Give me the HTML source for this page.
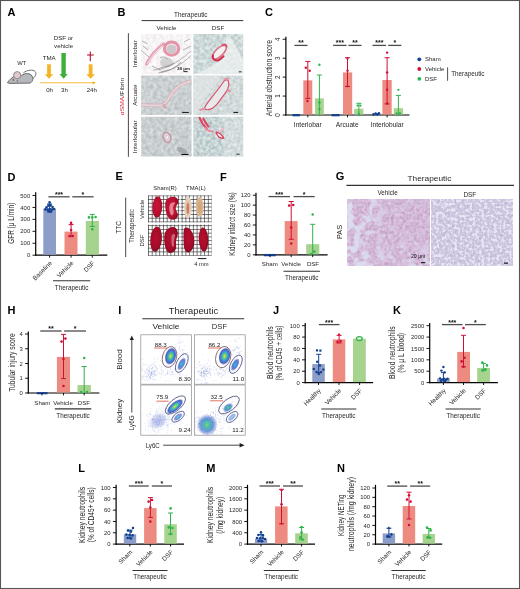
<!DOCTYPE html>
<html><head><meta charset="utf-8"><title>Figure</title>
<style>
html,body{margin:0;padding:0;background:#fff;overflow:hidden;}
svg{display:block;}
text{font-family:"Liberation Sans",sans-serif;}
</style></head><body>
<svg width="520" height="589" viewBox="0 0 520 589">
<rect x="0.00" y="0.00" width="520.00" height="589.00" fill="#fff" />
<rect x="0.5" y="0.5" width="519" height="588" fill="none" stroke="#555" stroke-width="1.1"/>
<text x="7.40" y="16.14" font-size="11" text-anchor="start" fill="#000" font-weight="bold" >A</text>
<text x="21.80" y="65.18" font-size="5.8" text-anchor="middle" fill="#231f20" font-weight="normal" >WT</text>
<text x="49.20" y="59.72" font-size="6.2" text-anchor="middle" fill="#231f20" font-weight="normal" >TMA</text>
<path d="M47.10,64.2 L50.90,64.2 L50.90,74.3 L53.25,74.3 L49.00,78.8 L44.75,74.3 L47.10,74.3Z" fill="#f5b428"/>
<text x="63.50" y="40.48" font-size="6.1" text-anchor="middle" fill="#231f20" font-weight="normal" >DSF or</text>
<text x="63.60" y="47.88" font-size="6.1" text-anchor="middle" fill="#231f20" font-weight="normal" >vehicle</text>
<path d="M61.40,53 L65.80,53 L65.80,73.89999999999999 L67.70,73.89999999999999 L63.60,78.8 L59.50,73.89999999999999 L61.40,73.89999999999999Z" fill="#3fae3c"/>
<path d="M88.70,64.2 L92.50,64.2 L92.50,74.3 L94.85,74.3 L90.60,78.8 L86.35,74.3 L88.70,74.3Z" fill="#f5b428"/>
<line x1="90.30" y1="51.50" x2="90.30" y2="61.20" stroke="#b3132f" stroke-width="1.1" />
<line x1="87.10" y1="55.00" x2="93.70" y2="55.00" stroke="#b3132f" stroke-width="1.1" />
<line x1="40.00" y1="82.80" x2="94.00" y2="82.80" stroke="#f5b428" stroke-width="0.9" />
<path d="M92.6,81.2 L96,82.8 L92.6,84.4Z" fill="#f5b428"/>
<text x="49.60" y="91.68" font-size="6.1" text-anchor="middle" fill="#231f20" font-weight="normal" >0h</text>
<text x="64.50" y="91.68" font-size="6.1" text-anchor="middle" fill="#231f20" font-weight="normal" >3h</text>
<text x="91.80" y="91.68" font-size="6.1" text-anchor="middle" fill="#231f20" font-weight="normal" >24h</text>
<g>
<path d="M32.2,78.6 C35.6,77.2 36.8,73.6 35.2,71.6 C33.2,69.2 27.4,69.8 23.4,72.8" fill="none" stroke="#4d4d4d" stroke-width="0.8"/>
<path d="M7.4,82.7 C9.6,79.6 12.4,77 15.4,75.6 L20.4,76.4 C23,73.6 28.4,72.4 31.2,75 C33.8,77.6 33.2,81.6 30,83.1 L9.6,83.4 Z" fill="#b6b9bb" stroke="#4d4d4d" stroke-width="0.8" stroke-linejoin="round"/>
<circle cx="17.2" cy="75.2" r="3.6" fill="#e2c9cd" stroke="#8a8a8a" stroke-width="1.0"/>
<circle cx="17.4" cy="81" r="0.9" fill="#8a7c7e"/>
<circle cx="13.3" cy="79.9" r="0.65" fill="#1a1a1a"/>
</g>
<text x="265.00" y="16.14" font-size="11" text-anchor="start" fill="#000" font-weight="bold" >C</text>
<line x1="285.90" y1="36.80" x2="285.90" y2="115.60" stroke="#000" stroke-width="1.2" />
<line x1="285.30" y1="115.00" x2="409.50" y2="115.00" stroke="#000" stroke-width="1.2" />
<line x1="282.70" y1="115.00" x2="285.90" y2="115.00" stroke="#000" stroke-width="0.9" />
<text transform="translate(278.20,115.00) rotate(-90)" y="2.26" font-size="6.3" text-anchor="middle" fill="#231f20" font-weight="normal" >0</text>
<line x1="282.70" y1="96.07" x2="285.90" y2="96.07" stroke="#000" stroke-width="0.9" />
<text transform="translate(278.20,96.07) rotate(-90)" y="2.26" font-size="6.3" text-anchor="middle" fill="#231f20" font-weight="normal" >1</text>
<line x1="282.70" y1="77.14" x2="285.90" y2="77.14" stroke="#000" stroke-width="0.9" />
<text transform="translate(278.20,77.14) rotate(-90)" y="2.26" font-size="6.3" text-anchor="middle" fill="#231f20" font-weight="normal" >2</text>
<line x1="282.70" y1="58.21" x2="285.90" y2="58.21" stroke="#000" stroke-width="0.9" />
<text transform="translate(278.20,58.21) rotate(-90)" y="2.26" font-size="6.3" text-anchor="middle" fill="#231f20" font-weight="normal" >3</text>
<line x1="282.70" y1="39.28" x2="285.90" y2="39.28" stroke="#000" stroke-width="0.9" />
<text transform="translate(278.20,39.28) rotate(-90)" y="2.26" font-size="6.3" text-anchor="middle" fill="#231f20" font-weight="normal" >4</text>
<text transform="translate(271.90,116.30) rotate(-90)" font-size="8.2" textLength="76.4" lengthAdjust="spacingAndGlyphs" fill="#231f20">Arterial obstruction score</text>
<line x1="292.50" y1="115.20" x2="300.00" y2="115.20" stroke="#12408f" stroke-width="2.2" />
<rect x="303.30" y="80.36" width="9.00" height="34.14" fill="#ee8b80" />
<rect x="315.00" y="98.34" width="8.80" height="16.16" fill="#a6d38e" />
<line x1="307.80" y1="61.40" x2="307.80" y2="98.40" stroke="#cf1138" stroke-width="1.0" />
<line x1="305.30" y1="61.40" x2="310.30" y2="61.40" stroke="#cf1138" stroke-width="1.0" />
<line x1="305.30" y1="98.40" x2="310.30" y2="98.40" stroke="#cf1138" stroke-width="1.0" />
<line x1="319.40" y1="75.00" x2="319.40" y2="116.20" stroke="#2fb34b" stroke-width="1.0" />
<line x1="316.90" y1="75.00" x2="321.90" y2="75.00" stroke="#2fb34b" stroke-width="1.0" />
<circle cx="305.80" cy="67.70" r="1.216" fill="#cf1138" />
<circle cx="309.70" cy="70.70" r="1.216" fill="#cf1138" />
<circle cx="307.50" cy="101.00" r="1.216" fill="#cf1138" />
<circle cx="319.40" cy="64.80" r="1.216" fill="#2fb34b" />
<circle cx="319.40" cy="102.50" r="1.216" fill="#2fb34b" />
<circle cx="319.40" cy="109.00" r="1.216" fill="#2fb34b" />
<line x1="331.50" y1="115.20" x2="339.60" y2="115.20" stroke="#12408f" stroke-width="2.2" />
<rect x="343.00" y="72.41" width="9.20" height="42.09" fill="#ee8b80" />
<rect x="354.20" y="108.75" width="9.20" height="5.75" fill="#a6d38e" />
<line x1="347.50" y1="57.70" x2="347.50" y2="86.50" stroke="#cf1138" stroke-width="1.0" />
<line x1="345.00" y1="57.70" x2="350.00" y2="57.70" stroke="#cf1138" stroke-width="1.0" />
<line x1="345.00" y1="86.50" x2="350.00" y2="86.50" stroke="#cf1138" stroke-width="1.0" />
<line x1="358.90" y1="103.30" x2="358.90" y2="116.20" stroke="#2fb34b" stroke-width="1.0" />
<line x1="356.40" y1="103.30" x2="361.40" y2="103.30" stroke="#2fb34b" stroke-width="1.0" />
<circle cx="347.50" cy="70.70" r="1.216" fill="#cf1138" />
<path d="M346.03,59.35 L348.97,59.35 L347.50,56.79Z" fill="#cf1138"/>
<path d="M346.2,85.8 L348.8,85.8 L347.5,87.8Z" fill="#cf1138"/>
<circle cx="357.60" cy="105.60" r="1.1520000000000001" fill="#2fb34b" />
<circle cx="360.40" cy="105.60" r="1.1520000000000001" fill="#2fb34b" />
<circle cx="359.00" cy="114.00" r="1.1520000000000001" fill="#2fb34b" />
<circle cx="373.50" cy="114.40" r="1.28" fill="#12408f" />
<circle cx="375.60" cy="113.60" r="1.28" fill="#12408f" />
<circle cx="377.40" cy="114.40" r="1.28" fill="#12408f" />
<circle cx="379.00" cy="113.40" r="1.28" fill="#12408f" />
<rect x="382.40" y="79.98" width="9.30" height="34.52" fill="#ee8b80" />
<rect x="393.80" y="108.19" width="9.30" height="6.31" fill="#a6d38e" />
<line x1="387.10" y1="57.70" x2="387.10" y2="103.90" stroke="#cf1138" stroke-width="1.0" />
<line x1="384.60" y1="57.70" x2="389.60" y2="57.70" stroke="#cf1138" stroke-width="1.0" />
<line x1="384.60" y1="103.90" x2="389.60" y2="103.90" stroke="#cf1138" stroke-width="1.0" />
<line x1="398.40" y1="95.40" x2="398.40" y2="116.20" stroke="#2fb34b" stroke-width="1.0" />
<line x1="395.90" y1="95.40" x2="400.90" y2="95.40" stroke="#2fb34b" stroke-width="1.0" />
<circle cx="387.10" cy="52.60" r="1.216" fill="#cf1138" />
<circle cx="387.10" cy="72.40" r="1.216" fill="#cf1138" />
<circle cx="387.10" cy="89.80" r="1.216" fill="#cf1138" />
<circle cx="387.10" cy="103.50" r="1.216" fill="#cf1138" />
<circle cx="398.40" cy="89.80" r="1.1520000000000001" fill="#2fb34b" />
<circle cx="396.60" cy="113.50" r="1.1520000000000001" fill="#2fb34b" />
<circle cx="400.00" cy="113.50" r="1.1520000000000001" fill="#2fb34b" />
<line x1="307.80" y1="115.00" x2="307.80" y2="117.40" stroke="#000" stroke-width="0.9" />
<line x1="347.50" y1="115.00" x2="347.50" y2="117.40" stroke="#000" stroke-width="0.9" />
<line x1="387.10" y1="115.00" x2="387.10" y2="117.40" stroke="#000" stroke-width="0.9" />
<text x="307.80" y="126.86" font-size="6.6" text-anchor="middle" fill="#231f20" font-weight="normal" >Interlobar</text>
<text x="347.20" y="126.86" font-size="6.6" text-anchor="middle" fill="#231f20" font-weight="normal" >Arcuate</text>
<text x="387.20" y="126.86" font-size="6.6" text-anchor="middle" fill="#231f20" font-weight="normal" >Interlobular</text>
<line x1="294.40" y1="45.40" x2="307.50" y2="45.40" stroke="#4d4d4f" stroke-width="1.3" />
<text x="300.95" y="45.31" font-size="7.0" text-anchor="middle" fill="#111" font-weight="bold" >**</text>
<line x1="333.10" y1="45.40" x2="346.60" y2="45.40" stroke="#4d4d4f" stroke-width="1.3" />
<text x="339.85" y="45.31" font-size="7.0" text-anchor="middle" fill="#111" font-weight="bold" >***</text>
<line x1="348.40" y1="45.40" x2="361.50" y2="45.40" stroke="#4d4d4f" stroke-width="1.3" />
<text x="354.95" y="45.31" font-size="7.0" text-anchor="middle" fill="#111" font-weight="bold" >**</text>
<line x1="372.50" y1="45.40" x2="386.10" y2="45.40" stroke="#4d4d4f" stroke-width="1.3" />
<text x="379.30" y="45.31" font-size="7.0" text-anchor="middle" fill="#111" font-weight="bold" >***</text>
<line x1="388.20" y1="45.40" x2="401.40" y2="45.40" stroke="#4d4d4f" stroke-width="1.3" />
<text x="394.80" y="45.31" font-size="7.0" text-anchor="middle" fill="#111" font-weight="bold" >*</text>
<circle cx="419.30" cy="59.30" r="1.9" fill="#12408f" />
<text x="425.00" y="61.45" font-size="6.0" text-anchor="start" fill="#231f20" font-weight="normal" >Sham</text>
<circle cx="419.30" cy="69.00" r="1.9" fill="#cf1138" />
<text x="425.00" y="71.15" font-size="6.0" text-anchor="start" fill="#231f20" font-weight="normal" >Vehicle</text>
<circle cx="419.30" cy="78.80" r="1.9" fill="#2fb34b" />
<text x="425.00" y="80.95" font-size="6.0" text-anchor="start" fill="#231f20" font-weight="normal" >DSF</text>
<line x1="447.60" y1="67.40" x2="447.60" y2="80.80" stroke="#222" stroke-width="0.8" />
<text x="451.20" y="76.06" font-size="6.3" text-anchor="start" fill="#231f20" font-weight="normal" >Therapeutic</text>
<text x="7.40" y="180.54" font-size="11" text-anchor="start" fill="#000" font-weight="bold" >D</text>
<line x1="35.70" y1="192.30" x2="35.70" y2="255.80" stroke="#000" stroke-width="1.2" />
<line x1="35.10" y1="255.20" x2="107.30" y2="255.20" stroke="#000" stroke-width="1.2" />
<line x1="32.50" y1="255.20" x2="35.70" y2="255.20" stroke="#000" stroke-width="0.9" />
<text x="30.20" y="257.31" font-size="5.9" text-anchor="end" fill="#231f20" font-weight="normal" >0</text>
<line x1="32.50" y1="243.26" x2="35.70" y2="243.26" stroke="#000" stroke-width="0.9" />
<text x="30.20" y="245.37" font-size="5.9" text-anchor="end" fill="#231f20" font-weight="normal" >100</text>
<line x1="32.50" y1="231.32" x2="35.70" y2="231.32" stroke="#000" stroke-width="0.9" />
<text x="30.20" y="233.43" font-size="5.9" text-anchor="end" fill="#231f20" font-weight="normal" >200</text>
<line x1="32.50" y1="219.38" x2="35.70" y2="219.38" stroke="#000" stroke-width="0.9" />
<text x="30.20" y="221.49" font-size="5.9" text-anchor="end" fill="#231f20" font-weight="normal" >300</text>
<line x1="32.50" y1="207.44" x2="35.70" y2="207.44" stroke="#000" stroke-width="0.9" />
<text x="30.20" y="209.55" font-size="5.9" text-anchor="end" fill="#231f20" font-weight="normal" >400</text>
<line x1="32.50" y1="195.50" x2="35.70" y2="195.50" stroke="#000" stroke-width="0.9" />
<text x="30.20" y="197.61" font-size="5.9" text-anchor="end" fill="#231f20" font-weight="normal" >500</text>
<text transform="translate(13.50,243.80) rotate(-90)" font-size="8.2" textLength="41.0" lengthAdjust="spacingAndGlyphs" fill="#231f20">GFR (μ L/min)</text>
<rect x="43.30" y="208.60" width="12.70" height="46.10" fill="#8d9dc9" />
<rect x="64.50" y="231.60" width="13.00" height="23.10" fill="#ee8b80" />
<rect x="85.80" y="221.00" width="13.10" height="33.70" fill="#a6d38e" />
<line x1="49.60" y1="204.00" x2="49.60" y2="211.80" stroke="#12408f" stroke-width="1.0" />
<line x1="47.10" y1="204.00" x2="52.10" y2="204.00" stroke="#12408f" stroke-width="1.0" />
<line x1="47.10" y1="211.80" x2="52.10" y2="211.80" stroke="#12408f" stroke-width="1.0" />
<line x1="71.10" y1="224.60" x2="71.10" y2="236.60" stroke="#cf1138" stroke-width="1.0" />
<line x1="68.60" y1="224.60" x2="73.60" y2="224.60" stroke="#cf1138" stroke-width="1.0" />
<line x1="68.60" y1="236.60" x2="73.60" y2="236.60" stroke="#cf1138" stroke-width="1.0" />
<line x1="92.30" y1="214.40" x2="92.30" y2="226.50" stroke="#2fb34b" stroke-width="1.0" />
<line x1="89.80" y1="214.40" x2="94.80" y2="214.40" stroke="#2fb34b" stroke-width="1.0" />
<line x1="89.80" y1="226.50" x2="94.80" y2="226.50" stroke="#2fb34b" stroke-width="1.0" />
<circle cx="49.60" cy="202.40" r="1.28" fill="#12408f" />
<circle cx="46.50" cy="207.20" r="1.28" fill="#12408f" />
<circle cx="48.30" cy="205.60" r="1.28" fill="#12408f" />
<circle cx="50.60" cy="205.40" r="1.28" fill="#12408f" />
<circle cx="52.60" cy="207.00" r="1.28" fill="#12408f" />
<circle cx="45.40" cy="209.40" r="1.28" fill="#12408f" />
<circle cx="47.60" cy="209.60" r="1.28" fill="#12408f" />
<circle cx="49.80" cy="209.00" r="1.28" fill="#12408f" />
<circle cx="52.00" cy="209.60" r="1.28" fill="#12408f" />
<circle cx="54.00" cy="209.00" r="1.28" fill="#12408f" />
<circle cx="48.60" cy="211.40" r="1.28" fill="#12408f" />
<circle cx="51.00" cy="211.60" r="1.28" fill="#12408f" />
<circle cx="71.10" cy="222.90" r="1.28" fill="#cf1138" />
<circle cx="71.10" cy="230.00" r="1.28" fill="#cf1138" />
<circle cx="69.60" cy="236.00" r="1.28" fill="#cf1138" />
<circle cx="72.70" cy="236.00" r="1.28" fill="#cf1138" />
<circle cx="89.00" cy="217.40" r="1.28" fill="#2fb34b" />
<circle cx="92.30" cy="217.40" r="1.28" fill="#2fb34b" />
<circle cx="95.60" cy="217.00" r="1.28" fill="#2fb34b" />
<circle cx="92.30" cy="229.20" r="1.28" fill="#2fb34b" />
<line x1="49.60" y1="255.20" x2="49.60" y2="257.60" stroke="#000" stroke-width="0.9" />
<line x1="71.10" y1="255.20" x2="71.10" y2="257.60" stroke="#000" stroke-width="0.9" />
<line x1="92.30" y1="255.20" x2="92.30" y2="257.60" stroke="#000" stroke-width="0.9" />
<text transform="translate(50.80,262.00) rotate(-45)" y="2.26" font-size="6.3" text-anchor="end" fill="#231f20" font-weight="normal" >Baseline</text>
<text transform="translate(72.30,262.00) rotate(-45)" y="2.26" font-size="6.3" text-anchor="end" fill="#231f20" font-weight="normal" >Vehicle</text>
<text transform="translate(93.50,262.00) rotate(-45)" y="2.26" font-size="6.3" text-anchor="end" fill="#231f20" font-weight="normal" >DSF</text>
<line x1="48.40" y1="196.80" x2="69.60" y2="196.80" stroke="#4d4d4f" stroke-width="1.3" />
<text x="59.00" y="196.71" font-size="7.0" text-anchor="middle" fill="#111" font-weight="bold" >***</text>
<line x1="72.30" y1="196.80" x2="93.60" y2="196.80" stroke="#4d4d4f" stroke-width="1.3" />
<text x="82.95" y="196.71" font-size="7.0" text-anchor="middle" fill="#111" font-weight="bold" >*</text>
<line x1="53.00" y1="280.80" x2="90.20" y2="280.80" stroke="#333" stroke-width="1.1" />
<text x="71.60" y="289.67" font-size="6.35" text-anchor="middle" fill="#231f20" font-weight="normal" >Therapeutic</text>
<text x="220.00" y="180.54" font-size="11" text-anchor="start" fill="#000" font-weight="bold" >F</text>
<line x1="256.00" y1="192.70" x2="256.00" y2="255.40" stroke="#000" stroke-width="1.2" />
<line x1="255.40" y1="254.80" x2="327.60" y2="254.80" stroke="#000" stroke-width="1.2" />
<line x1="252.80" y1="254.80" x2="256.00" y2="254.80" stroke="#000" stroke-width="0.9" />
<text x="250.50" y="256.91" font-size="5.9" text-anchor="end" fill="#231f20" font-weight="normal" >0</text>
<line x1="252.80" y1="244.87" x2="256.00" y2="244.87" stroke="#000" stroke-width="0.9" />
<text x="250.50" y="246.98" font-size="5.9" text-anchor="end" fill="#231f20" font-weight="normal" >20</text>
<line x1="252.80" y1="234.94" x2="256.00" y2="234.94" stroke="#000" stroke-width="0.9" />
<text x="250.50" y="237.05" font-size="5.9" text-anchor="end" fill="#231f20" font-weight="normal" >40</text>
<line x1="252.80" y1="225.01" x2="256.00" y2="225.01" stroke="#000" stroke-width="0.9" />
<text x="250.50" y="227.12" font-size="5.9" text-anchor="end" fill="#231f20" font-weight="normal" >60</text>
<line x1="252.80" y1="215.08" x2="256.00" y2="215.08" stroke="#000" stroke-width="0.9" />
<text x="250.50" y="217.19" font-size="5.9" text-anchor="end" fill="#231f20" font-weight="normal" >80</text>
<line x1="252.80" y1="205.15" x2="256.00" y2="205.15" stroke="#000" stroke-width="0.9" />
<text x="250.50" y="207.26" font-size="5.9" text-anchor="end" fill="#231f20" font-weight="normal" >100</text>
<line x1="252.80" y1="195.22" x2="256.00" y2="195.22" stroke="#000" stroke-width="0.9" />
<text x="250.50" y="197.33" font-size="5.9" text-anchor="end" fill="#231f20" font-weight="normal" >120</text>
<text transform="translate(235.30,255.75) rotate(-90)" font-size="8.2" textLength="63.5" lengthAdjust="spacingAndGlyphs" fill="#231f20">Kidney infarct size (%)</text>
<line x1="263.80" y1="255.10" x2="275.80" y2="255.10" stroke="#12408f" stroke-width="2.3" />
<rect x="284.70" y="221.10" width="12.90" height="33.20" fill="#ee8b80" />
<rect x="306.20" y="244.20" width="13.10" height="10.10" fill="#a6d38e" />
<line x1="291.20" y1="201.50" x2="291.20" y2="239.30" stroke="#cf1138" stroke-width="1.0" />
<line x1="288.70" y1="201.50" x2="293.70" y2="201.50" stroke="#cf1138" stroke-width="1.0" />
<line x1="288.70" y1="239.30" x2="293.70" y2="239.30" stroke="#cf1138" stroke-width="1.0" />
<line x1="312.70" y1="224.30" x2="312.70" y2="255.80" stroke="#2fb34b" stroke-width="1.0" />
<line x1="310.20" y1="224.30" x2="315.20" y2="224.30" stroke="#2fb34b" stroke-width="1.0" />
<circle cx="289.20" cy="205.60" r="1.28" fill="#cf1138" />
<circle cx="293.20" cy="205.00" r="1.28" fill="#cf1138" />
<circle cx="291.20" cy="227.50" r="1.28" fill="#cf1138" />
<circle cx="291.20" cy="243.50" r="1.28" fill="#cf1138" />
<circle cx="312.70" cy="214.50" r="1.28" fill="#2fb34b" />
<circle cx="314.40" cy="251.60" r="1.28" fill="#2fb34b" />
<circle cx="311.00" cy="254.00" r="1.28" fill="#2fb34b" />
<line x1="270.00" y1="254.80" x2="270.00" y2="257.20" stroke="#000" stroke-width="0.9" />
<line x1="291.20" y1="254.80" x2="291.20" y2="257.20" stroke="#000" stroke-width="0.9" />
<line x1="312.70" y1="254.80" x2="312.70" y2="257.20" stroke="#000" stroke-width="0.9" />
<text x="269.80" y="266.48" font-size="6.1" text-anchor="middle" fill="#231f20" font-weight="normal" >Sham</text>
<text x="291.20" y="266.48" font-size="6.1" text-anchor="middle" fill="#231f20" font-weight="normal" >Vehicle</text>
<text x="313.00" y="266.48" font-size="6.1" text-anchor="middle" fill="#231f20" font-weight="normal" >DSF</text>
<line x1="268.50" y1="196.60" x2="290.00" y2="196.60" stroke="#4d4d4f" stroke-width="1.3" />
<text x="279.25" y="196.51" font-size="7.0" text-anchor="middle" fill="#111" font-weight="bold" >***</text>
<line x1="293.50" y1="196.60" x2="314.70" y2="196.60" stroke="#4d4d4f" stroke-width="1.3" />
<text x="304.10" y="196.51" font-size="7.0" text-anchor="middle" fill="#111" font-weight="bold" >*</text>
<line x1="283.50" y1="271.20" x2="320.00" y2="271.20" stroke="#333" stroke-width="1.1" />
<text x="301.75" y="280.07" font-size="6.35" text-anchor="middle" fill="#231f20" font-weight="normal" >Therapeutic</text>
<text x="7.40" y="313.84" font-size="11" text-anchor="start" fill="#000" font-weight="bold" >H</text>
<line x1="28.30" y1="331.40" x2="28.30" y2="393.60" stroke="#000" stroke-width="1.2" />
<line x1="27.70" y1="393.00" x2="99.40" y2="393.00" stroke="#000" stroke-width="1.2" />
<line x1="25.10" y1="393.00" x2="28.30" y2="393.00" stroke="#000" stroke-width="0.9" />
<text x="22.80" y="395.11" font-size="5.9" text-anchor="end" fill="#231f20" font-weight="normal" >0</text>
<line x1="25.10" y1="378.25" x2="28.30" y2="378.25" stroke="#000" stroke-width="0.9" />
<text x="22.80" y="380.36" font-size="5.9" text-anchor="end" fill="#231f20" font-weight="normal" >1</text>
<line x1="25.10" y1="363.50" x2="28.30" y2="363.50" stroke="#000" stroke-width="0.9" />
<text x="22.80" y="365.61" font-size="5.9" text-anchor="end" fill="#231f20" font-weight="normal" >2</text>
<line x1="25.10" y1="348.75" x2="28.30" y2="348.75" stroke="#000" stroke-width="0.9" />
<text x="22.80" y="350.86" font-size="5.9" text-anchor="end" fill="#231f20" font-weight="normal" >3</text>
<line x1="25.10" y1="334.00" x2="28.30" y2="334.00" stroke="#000" stroke-width="0.9" />
<text x="22.80" y="336.11" font-size="5.9" text-anchor="end" fill="#231f20" font-weight="normal" >4</text>
<text transform="translate(14.60,391.80) rotate(-90)" font-size="8.2" textLength="58.4" lengthAdjust="spacingAndGlyphs" fill="#231f20">Tubular injury score</text>
<line x1="36.80" y1="393.20" x2="47.60" y2="393.20" stroke="#12408f" stroke-width="2.1" />
<rect x="56.90" y="356.90" width="13.10" height="35.60" fill="#ee8b80" />
<rect x="77.50" y="385.00" width="13.40" height="7.50" fill="#a6d38e" />
<line x1="63.50" y1="334.40" x2="63.50" y2="378.60" stroke="#cf1138" stroke-width="1.0" />
<line x1="61.00" y1="334.40" x2="66.00" y2="334.40" stroke="#cf1138" stroke-width="1.0" />
<line x1="61.00" y1="378.60" x2="66.00" y2="378.60" stroke="#cf1138" stroke-width="1.0" />
<line x1="84.20" y1="366.50" x2="84.20" y2="394.00" stroke="#2fb34b" stroke-width="1.0" />
<line x1="81.70" y1="366.50" x2="86.70" y2="366.50" stroke="#2fb34b" stroke-width="1.0" />
<circle cx="61.50" cy="341.60" r="1.28" fill="#cf1138" />
<circle cx="65.40" cy="338.60" r="1.28" fill="#cf1138" />
<circle cx="63.50" cy="359.00" r="1.28" fill="#cf1138" />
<circle cx="63.50" cy="386.00" r="1.28" fill="#cf1138" />
<circle cx="84.20" cy="358.00" r="1.28" fill="#2fb34b" />
<circle cx="81.20" cy="392.00" r="1.28" fill="#2fb34b" />
<circle cx="87.00" cy="392.00" r="1.28" fill="#2fb34b" />
<line x1="42.00" y1="393.00" x2="42.00" y2="395.40" stroke="#000" stroke-width="0.9" />
<line x1="63.50" y1="393.00" x2="63.50" y2="395.40" stroke="#000" stroke-width="0.9" />
<line x1="84.20" y1="393.00" x2="84.20" y2="395.40" stroke="#000" stroke-width="0.9" />
<text x="42.30" y="404.68" font-size="6.1" text-anchor="middle" fill="#231f20" font-weight="normal" >Sham</text>
<text x="63.00" y="404.68" font-size="6.1" text-anchor="middle" fill="#231f20" font-weight="normal" >Vehicle</text>
<text x="83.90" y="404.68" font-size="6.1" text-anchor="middle" fill="#231f20" font-weight="normal" >DSF</text>
<line x1="40.30" y1="331.00" x2="61.60" y2="331.00" stroke="#4d4d4f" stroke-width="1.3" />
<text x="50.95" y="330.91" font-size="7.0" text-anchor="middle" fill="#111" font-weight="bold" >**</text>
<line x1="64.10" y1="331.00" x2="86.00" y2="331.00" stroke="#4d4d4f" stroke-width="1.3" />
<text x="75.05" y="330.91" font-size="7.0" text-anchor="middle" fill="#111" font-weight="bold" >*</text>
<line x1="54.80" y1="408.90" x2="91.30" y2="408.90" stroke="#333" stroke-width="1.1" />
<text x="73.05" y="417.77" font-size="6.35" text-anchor="middle" fill="#231f20" font-weight="normal" >Therapeutic</text>
<text x="272.90" y="314.14" font-size="11" text-anchor="start" fill="#000" font-weight="bold" >J</text>
<line x1="305.20" y1="323.00" x2="305.20" y2="383.20" stroke="#000" stroke-width="1.2" />
<line x1="304.60" y1="382.60" x2="373.10" y2="382.60" stroke="#000" stroke-width="1.2" />
<line x1="302.00" y1="382.60" x2="305.20" y2="382.60" stroke="#000" stroke-width="0.9" />
<text x="299.70" y="384.71" font-size="5.9" text-anchor="end" fill="#231f20" font-weight="normal" >0</text>
<line x1="302.00" y1="371.22" x2="305.20" y2="371.22" stroke="#000" stroke-width="0.9" />
<text x="299.70" y="373.33" font-size="5.9" text-anchor="end" fill="#231f20" font-weight="normal" >20</text>
<line x1="302.00" y1="359.84" x2="305.20" y2="359.84" stroke="#000" stroke-width="0.9" />
<text x="299.70" y="361.95" font-size="5.9" text-anchor="end" fill="#231f20" font-weight="normal" >40</text>
<line x1="302.00" y1="348.46" x2="305.20" y2="348.46" stroke="#000" stroke-width="0.9" />
<text x="299.70" y="350.57" font-size="5.9" text-anchor="end" fill="#231f20" font-weight="normal" >60</text>
<line x1="302.00" y1="337.08" x2="305.20" y2="337.08" stroke="#000" stroke-width="0.9" />
<text x="299.70" y="339.19" font-size="5.9" text-anchor="end" fill="#231f20" font-weight="normal" >80</text>
<line x1="302.00" y1="325.70" x2="305.20" y2="325.70" stroke="#000" stroke-width="0.9" />
<text x="299.70" y="327.81" font-size="5.9" text-anchor="end" fill="#231f20" font-weight="normal" >100</text>
<text transform="translate(273.20,379.00) rotate(-90)" font-size="8.2" textLength="52.8" lengthAdjust="spacingAndGlyphs" fill="#231f20">Blood neutrophils</text>
<text transform="translate(282.40,380.50) rotate(-90)" font-size="8.2" textLength="55.0" lengthAdjust="spacingAndGlyphs" fill="#231f20">(% of CD45 + cells)</text>
<rect x="312.30" y="364.10" width="12.50" height="18.00" fill="#8d9dc9" />
<rect x="332.80" y="339.40" width="12.50" height="42.70" fill="#ee8b80" />
<rect x="353.00" y="338.80" width="12.80" height="43.30" fill="#a6d38e" />
<line x1="318.70" y1="354.30" x2="318.70" y2="372.60" stroke="#12408f" stroke-width="1.0" />
<line x1="316.20" y1="354.30" x2="321.20" y2="354.30" stroke="#12408f" stroke-width="1.0" />
<line x1="316.20" y1="372.60" x2="321.20" y2="372.60" stroke="#12408f" stroke-width="1.0" />
<line x1="339.10" y1="335.30" x2="339.10" y2="343.00" stroke="#cf1138" stroke-width="1.0" />
<line x1="336.60" y1="335.30" x2="341.60" y2="335.30" stroke="#cf1138" stroke-width="1.0" />
<line x1="336.60" y1="343.00" x2="341.60" y2="343.00" stroke="#cf1138" stroke-width="1.0" />
<rect x="315.91" y="349.31" width="2.18" height="2.18" fill="#12408f" />
<rect x="319.31" y="349.51" width="2.18" height="2.18" fill="#12408f" />
<rect x="316.11" y="360.71" width="2.18" height="2.18" fill="#12408f" />
<rect x="318.91" y="364.41" width="2.18" height="2.18" fill="#12408f" />
<rect x="312.71" y="367.91" width="2.18" height="2.18" fill="#12408f" />
<rect x="322.31" y="368.51" width="2.18" height="2.18" fill="#12408f" />
<rect x="315.41" y="370.91" width="2.18" height="2.18" fill="#12408f" />
<rect x="319.91" y="371.11" width="2.18" height="2.18" fill="#12408f" />
<rect x="317.61" y="372.91" width="2.18" height="2.18" fill="#12408f" />
<path d="M337.38,335.47 L340.62,335.47 L339.00,332.65Z" fill="#cf1138"/>
<path d="M335.78,342.67 L339.02,342.67 L337.40,339.85Z" fill="#cf1138"/>
<path d="M339.18,342.07 L342.42,342.07 L340.80,339.25Z" fill="#cf1138"/>
<ellipse cx="359.3" cy="338.6" rx="2.9" ry="1.9" fill="#e8f6e4" stroke="#2fb34b" stroke-width="1.3"/>
<line x1="318.50" y1="382.60" x2="318.50" y2="385.00" stroke="#000" stroke-width="0.9" />
<line x1="339.00" y1="382.60" x2="339.00" y2="385.00" stroke="#000" stroke-width="0.9" />
<line x1="359.60" y1="382.60" x2="359.60" y2="385.00" stroke="#000" stroke-width="0.9" />
<text transform="translate(319.70,389.40) rotate(-45)" y="2.26" font-size="6.3" text-anchor="end" fill="#231f20" font-weight="normal" >Healthy</text>
<text transform="translate(340.20,389.40) rotate(-45)" y="2.26" font-size="6.3" text-anchor="end" fill="#231f20" font-weight="normal" >Vehicle</text>
<text transform="translate(360.80,389.40) rotate(-45)" y="2.26" font-size="6.3" text-anchor="end" fill="#231f20" font-weight="normal" >DSF</text>
<line x1="318.80" y1="324.60" x2="339.50" y2="324.60" stroke="#4d4d4f" stroke-width="1.3" />
<text x="329.15" y="324.51" font-size="7.0" text-anchor="middle" fill="#111" font-weight="bold" >***</text>
<line x1="321.30" y1="409.00" x2="356.30" y2="409.00" stroke="#333" stroke-width="1.1" />
<text x="338.80" y="417.87" font-size="6.35" text-anchor="middle" fill="#231f20" font-weight="normal" >Therapeutic</text>
<text x="392.90" y="314.14" font-size="11" text-anchor="start" fill="#000" font-weight="bold" >K</text>
<line x1="429.70" y1="323.00" x2="429.70" y2="383.20" stroke="#000" stroke-width="1.2" />
<line x1="429.10" y1="382.60" x2="497.90" y2="382.60" stroke="#000" stroke-width="1.2" />
<line x1="426.50" y1="382.60" x2="429.70" y2="382.60" stroke="#000" stroke-width="0.9" />
<text x="424.20" y="384.71" font-size="5.9" text-anchor="end" fill="#231f20" font-weight="normal" >0</text>
<line x1="426.50" y1="371.22" x2="429.70" y2="371.22" stroke="#000" stroke-width="0.9" />
<text x="424.20" y="373.33" font-size="5.9" text-anchor="end" fill="#231f20" font-weight="normal" >500</text>
<line x1="426.50" y1="359.84" x2="429.70" y2="359.84" stroke="#000" stroke-width="0.9" />
<text x="424.20" y="361.95" font-size="5.9" text-anchor="end" fill="#231f20" font-weight="normal" >1000</text>
<line x1="426.50" y1="348.46" x2="429.70" y2="348.46" stroke="#000" stroke-width="0.9" />
<text x="424.20" y="350.57" font-size="5.9" text-anchor="end" fill="#231f20" font-weight="normal" >1500</text>
<line x1="426.50" y1="337.08" x2="429.70" y2="337.08" stroke="#000" stroke-width="0.9" />
<text x="424.20" y="339.19" font-size="5.9" text-anchor="end" fill="#231f20" font-weight="normal" >2000</text>
<line x1="426.50" y1="325.70" x2="429.70" y2="325.70" stroke="#000" stroke-width="0.9" />
<text x="424.20" y="327.81" font-size="5.9" text-anchor="end" fill="#231f20" font-weight="normal" >2500</text>
<text transform="translate(394.90,379.00) rotate(-90)" font-size="8.2" textLength="52.8" lengthAdjust="spacingAndGlyphs" fill="#231f20">Blood neutrophils</text>
<text transform="translate(403.50,372.70) rotate(-90)" font-size="8.2" textLength="39.8" lengthAdjust="spacingAndGlyphs" fill="#231f20">(% μ L blood)</text>
<rect x="437.10" y="378.40" width="12.70" height="3.70" fill="#8d9dc9" />
<rect x="457.20" y="351.90" width="12.80" height="30.20" fill="#ee8b80" />
<rect x="477.20" y="367.90" width="12.80" height="14.20" fill="#a6d38e" />
<line x1="443.40" y1="372.40" x2="443.40" y2="383.20" stroke="#12408f" stroke-width="1.0" />
<line x1="440.90" y1="372.40" x2="445.90" y2="372.40" stroke="#12408f" stroke-width="1.0" />
<line x1="463.50" y1="335.30" x2="463.50" y2="366.80" stroke="#cf1138" stroke-width="1.0" />
<line x1="461.00" y1="335.30" x2="466.00" y2="335.30" stroke="#cf1138" stroke-width="1.0" />
<line x1="461.00" y1="366.80" x2="466.00" y2="366.80" stroke="#cf1138" stroke-width="1.0" />
<line x1="483.60" y1="363.40" x2="483.60" y2="370.60" stroke="#2fb34b" stroke-width="1.0" />
<line x1="481.10" y1="363.40" x2="486.10" y2="363.40" stroke="#2fb34b" stroke-width="1.0" />
<line x1="481.10" y1="370.60" x2="486.10" y2="370.60" stroke="#2fb34b" stroke-width="1.0" />
<circle cx="443.40" cy="367.00" r="1.216" fill="#12408f" />
<circle cx="441.40" cy="370.60" r="1.216" fill="#12408f" />
<circle cx="444.60" cy="372.40" r="1.216" fill="#12408f" />
<circle cx="440.00" cy="378.40" r="1.216" fill="#12408f" />
<circle cx="442.00" cy="379.60" r="1.216" fill="#12408f" />
<circle cx="444.00" cy="378.60" r="1.216" fill="#12408f" />
<circle cx="446.00" cy="379.80" r="1.216" fill="#12408f" />
<circle cx="447.60" cy="378.80" r="1.216" fill="#12408f" />
<circle cx="441.00" cy="380.80" r="1.216" fill="#12408f" />
<circle cx="445.00" cy="381.00" r="1.216" fill="#12408f" />
<circle cx="463.50" cy="328.00" r="1.28" fill="#cf1138" />
<circle cx="464.60" cy="357.80" r="1.28" fill="#cf1138" />
<circle cx="461.60" cy="361.40" r="1.28" fill="#cf1138" />
<circle cx="463.50" cy="366.80" r="1.28" fill="#cf1138" />
<circle cx="482.40" cy="362.60" r="1.28" fill="#2fb34b" />
<circle cx="487.00" cy="365.40" r="1.28" fill="#2fb34b" />
<circle cx="482.60" cy="370.40" r="1.28" fill="#2fb34b" />
<circle cx="485.50" cy="369.40" r="1.28" fill="#2fb34b" />
<line x1="443.40" y1="382.60" x2="443.40" y2="385.00" stroke="#000" stroke-width="0.9" />
<line x1="463.50" y1="382.60" x2="463.50" y2="385.00" stroke="#000" stroke-width="0.9" />
<line x1="483.60" y1="382.60" x2="483.60" y2="385.00" stroke="#000" stroke-width="0.9" />
<text transform="translate(444.60,389.40) rotate(-45)" y="2.26" font-size="6.3" text-anchor="end" fill="#231f20" font-weight="normal" >Healthy</text>
<text transform="translate(464.70,389.40) rotate(-45)" y="2.26" font-size="6.3" text-anchor="end" fill="#231f20" font-weight="normal" >Vehicle</text>
<text transform="translate(484.80,389.40) rotate(-45)" y="2.26" font-size="6.3" text-anchor="end" fill="#231f20" font-weight="normal" >DSF</text>
<line x1="442.00" y1="324.60" x2="462.50" y2="324.60" stroke="#4d4d4f" stroke-width="1.3" />
<text x="452.25" y="324.51" font-size="7.0" text-anchor="middle" fill="#111" font-weight="bold" >***</text>
<line x1="465.00" y1="324.60" x2="485.80" y2="324.60" stroke="#4d4d4f" stroke-width="1.3" />
<text x="475.40" y="324.51" font-size="7.0" text-anchor="middle" fill="#111" font-weight="bold" >*</text>
<line x1="445.50" y1="409.00" x2="480.80" y2="409.00" stroke="#333" stroke-width="1.1" />
<text x="463.15" y="417.87" font-size="6.35" text-anchor="middle" fill="#231f20" font-weight="normal" >Therapeutic</text>
<text x="78.20" y="472.14" font-size="11" text-anchor="start" fill="#000" font-weight="bold" >L</text>
<line x1="116.10" y1="484.80" x2="116.10" y2="544.70" stroke="#000" stroke-width="1.2" />
<line x1="115.50" y1="544.10" x2="184.00" y2="544.10" stroke="#000" stroke-width="1.2" />
<line x1="112.90" y1="544.10" x2="116.10" y2="544.10" stroke="#000" stroke-width="0.9" />
<text x="110.60" y="546.21" font-size="5.9" text-anchor="end" fill="#231f20" font-weight="normal" >0</text>
<line x1="112.90" y1="532.78" x2="116.10" y2="532.78" stroke="#000" stroke-width="0.9" />
<text x="110.60" y="534.89" font-size="5.9" text-anchor="end" fill="#231f20" font-weight="normal" >20</text>
<line x1="112.90" y1="521.46" x2="116.10" y2="521.46" stroke="#000" stroke-width="0.9" />
<text x="110.60" y="523.57" font-size="5.9" text-anchor="end" fill="#231f20" font-weight="normal" >40</text>
<line x1="112.90" y1="510.14" x2="116.10" y2="510.14" stroke="#000" stroke-width="0.9" />
<text x="110.60" y="512.25" font-size="5.9" text-anchor="end" fill="#231f20" font-weight="normal" >60</text>
<line x1="112.90" y1="498.82" x2="116.10" y2="498.82" stroke="#000" stroke-width="0.9" />
<text x="110.60" y="500.93" font-size="5.9" text-anchor="end" fill="#231f20" font-weight="normal" >80</text>
<line x1="112.90" y1="487.50" x2="116.10" y2="487.50" stroke="#000" stroke-width="0.9" />
<text x="110.60" y="489.61" font-size="5.9" text-anchor="end" fill="#231f20" font-weight="normal" >100</text>
<text transform="translate(85.30,542.90) rotate(-90)" font-size="8.2" textLength="56.0" lengthAdjust="spacingAndGlyphs" fill="#231f20">Kidney neutrophils</text>
<text transform="translate(94.30,542.30) rotate(-90)" font-size="8.2" textLength="55.0" lengthAdjust="spacingAndGlyphs" fill="#231f20">(% of CD45+ cells)</text>
<rect x="123.80" y="534.20" width="12.40" height="9.40" fill="#8d9dc9" />
<rect x="144.10" y="508.10" width="12.50" height="35.50" fill="#ee8b80" />
<rect x="164.30" y="524.30" width="12.50" height="19.30" fill="#a6d38e" />
<line x1="130.00" y1="530.10" x2="130.00" y2="538.20" stroke="#12408f" stroke-width="1.0" />
<line x1="127.50" y1="530.10" x2="132.50" y2="530.10" stroke="#12408f" stroke-width="1.0" />
<line x1="127.50" y1="538.20" x2="132.50" y2="538.20" stroke="#12408f" stroke-width="1.0" />
<line x1="150.40" y1="497.60" x2="150.40" y2="517.40" stroke="#cf1138" stroke-width="1.0" />
<line x1="147.90" y1="497.60" x2="152.90" y2="497.60" stroke="#cf1138" stroke-width="1.0" />
<line x1="147.90" y1="517.40" x2="152.90" y2="517.40" stroke="#cf1138" stroke-width="1.0" />
<line x1="170.50" y1="513.00" x2="170.50" y2="534.00" stroke="#2fb34b" stroke-width="1.0" />
<line x1="168.00" y1="513.00" x2="173.00" y2="513.00" stroke="#2fb34b" stroke-width="1.0" />
<line x1="168.00" y1="534.00" x2="173.00" y2="534.00" stroke="#2fb34b" stroke-width="1.0" />
<circle cx="133.00" cy="528.00" r="1.28" fill="#12408f" />
<circle cx="128.00" cy="530.60" r="1.28" fill="#12408f" />
<circle cx="131.00" cy="531.60" r="1.28" fill="#12408f" />
<circle cx="126.40" cy="534.60" r="1.28" fill="#12408f" />
<circle cx="129.60" cy="535.00" r="1.28" fill="#12408f" />
<circle cx="132.60" cy="535.40" r="1.28" fill="#12408f" />
<circle cx="127.60" cy="538.00" r="1.28" fill="#12408f" />
<circle cx="130.80" cy="538.40" r="1.28" fill="#12408f" />
<circle cx="148.60" cy="501.60" r="1.28" fill="#cf1138" />
<circle cx="152.00" cy="500.00" r="1.28" fill="#cf1138" />
<circle cx="150.30" cy="507.60" r="1.28" fill="#cf1138" />
<circle cx="150.30" cy="521.60" r="1.28" fill="#cf1138" />
<circle cx="170.60" cy="508.40" r="1.28" fill="#2fb34b" />
<circle cx="168.80" cy="527.40" r="1.28" fill="#2fb34b" />
<circle cx="172.40" cy="528.00" r="1.28" fill="#2fb34b" />
<circle cx="170.60" cy="534.00" r="1.28" fill="#2fb34b" />
<line x1="129.80" y1="544.10" x2="129.80" y2="546.50" stroke="#000" stroke-width="0.9" />
<line x1="150.30" y1="544.10" x2="150.30" y2="546.50" stroke="#000" stroke-width="0.9" />
<line x1="170.60" y1="544.10" x2="170.60" y2="546.50" stroke="#000" stroke-width="0.9" />
<text transform="translate(131.00,550.90) rotate(-45)" y="2.26" font-size="6.3" text-anchor="end" fill="#231f20" font-weight="normal" >Sham</text>
<text transform="translate(151.50,550.90) rotate(-45)" y="2.26" font-size="6.3" text-anchor="end" fill="#231f20" font-weight="normal" >Vehicle</text>
<text transform="translate(171.80,550.90) rotate(-45)" y="2.26" font-size="6.3" text-anchor="end" fill="#231f20" font-weight="normal" >DSF</text>
<line x1="128.80" y1="486.00" x2="148.80" y2="486.00" stroke="#4d4d4f" stroke-width="1.3" />
<text x="138.80" y="485.91" font-size="7.0" text-anchor="middle" fill="#111" font-weight="bold" >***</text>
<line x1="151.80" y1="486.00" x2="172.00" y2="486.00" stroke="#4d4d4f" stroke-width="1.3" />
<text x="161.90" y="485.91" font-size="7.0" text-anchor="middle" fill="#111" font-weight="bold" >*</text>
<line x1="132.50" y1="570.50" x2="167.50" y2="570.50" stroke="#333" stroke-width="1.1" />
<text x="150.00" y="579.37" font-size="6.35" text-anchor="middle" fill="#231f20" font-weight="normal" >Therapeutic</text>
<text x="206.20" y="472.14" font-size="11" text-anchor="start" fill="#000" font-weight="bold" >M</text>
<line x1="247.50" y1="484.80" x2="247.50" y2="544.70" stroke="#000" stroke-width="1.2" />
<line x1="246.90" y1="544.10" x2="315.00" y2="544.10" stroke="#000" stroke-width="1.2" />
<line x1="244.30" y1="544.10" x2="247.50" y2="544.10" stroke="#000" stroke-width="0.9" />
<text x="242.00" y="546.21" font-size="5.9" text-anchor="end" fill="#231f20" font-weight="normal" >0</text>
<line x1="244.30" y1="532.78" x2="247.50" y2="532.78" stroke="#000" stroke-width="0.9" />
<text x="242.00" y="534.89" font-size="5.9" text-anchor="end" fill="#231f20" font-weight="normal" >400</text>
<line x1="244.30" y1="521.46" x2="247.50" y2="521.46" stroke="#000" stroke-width="0.9" />
<text x="242.00" y="523.57" font-size="5.9" text-anchor="end" fill="#231f20" font-weight="normal" >800</text>
<line x1="244.30" y1="510.14" x2="247.50" y2="510.14" stroke="#000" stroke-width="0.9" />
<text x="242.00" y="512.25" font-size="5.9" text-anchor="end" fill="#231f20" font-weight="normal" >1200</text>
<line x1="244.30" y1="498.82" x2="247.50" y2="498.82" stroke="#000" stroke-width="0.9" />
<text x="242.00" y="500.93" font-size="5.9" text-anchor="end" fill="#231f20" font-weight="normal" >1600</text>
<line x1="244.30" y1="487.50" x2="247.50" y2="487.50" stroke="#000" stroke-width="0.9" />
<text x="242.00" y="489.61" font-size="5.9" text-anchor="end" fill="#231f20" font-weight="normal" >2000</text>
<text transform="translate(213.30,542.90) rotate(-90)" font-size="8.2" textLength="56.0" lengthAdjust="spacingAndGlyphs" fill="#231f20">Kidney neutrophils</text>
<text transform="translate(222.70,533.70) rotate(-90)" font-size="8.2" textLength="37.0" lengthAdjust="spacingAndGlyphs" fill="#231f20">(/mg kidney)</text>
<rect x="255.00" y="538.80" width="12.20" height="4.80" fill="#8d9dc9" />
<rect x="275.10" y="506.40" width="12.50" height="37.20" fill="#ee8b80" />
<rect x="295.20" y="533.30" width="12.60" height="10.30" fill="#a6d38e" />
<line x1="261.00" y1="534.60" x2="261.00" y2="541.40" stroke="#12408f" stroke-width="1.0" />
<line x1="258.50" y1="534.60" x2="263.50" y2="534.60" stroke="#12408f" stroke-width="1.0" />
<line x1="258.50" y1="541.40" x2="263.50" y2="541.40" stroke="#12408f" stroke-width="1.0" />
<line x1="281.50" y1="489.30" x2="281.50" y2="523.80" stroke="#cf1138" stroke-width="1.0" />
<line x1="279.00" y1="489.30" x2="284.00" y2="489.30" stroke="#cf1138" stroke-width="1.0" />
<line x1="279.00" y1="523.80" x2="284.00" y2="523.80" stroke="#cf1138" stroke-width="1.0" />
<line x1="301.60" y1="527.50" x2="301.60" y2="539.30" stroke="#2fb34b" stroke-width="1.0" />
<line x1="299.10" y1="527.50" x2="304.10" y2="527.50" stroke="#2fb34b" stroke-width="1.0" />
<line x1="299.10" y1="539.30" x2="304.10" y2="539.30" stroke="#2fb34b" stroke-width="1.0" />
<circle cx="261.00" cy="532.40" r="1.28" fill="#12408f" />
<circle cx="258.40" cy="535.00" r="1.28" fill="#12408f" />
<circle cx="263.00" cy="535.40" r="1.28" fill="#12408f" />
<circle cx="257.00" cy="538.00" r="1.28" fill="#12408f" />
<circle cx="260.00" cy="538.40" r="1.28" fill="#12408f" />
<circle cx="262.80" cy="538.00" r="1.28" fill="#12408f" />
<circle cx="265.00" cy="539.00" r="1.28" fill="#12408f" />
<circle cx="258.60" cy="541.00" r="1.28" fill="#12408f" />
<circle cx="262.00" cy="541.20" r="1.28" fill="#12408f" />
<circle cx="281.50" cy="504.20" r="1.28" fill="#cf1138" />
<path d="M280.03,490.95 L282.97,490.95 L281.50,488.39Z" fill="#cf1138"/>
<path d="M280.2,523 L282.8,523 L281.5,525Z" fill="#cf1138"/>
<circle cx="301.60" cy="527.00" r="1.28" fill="#2fb34b" />
<circle cx="301.60" cy="532.60" r="1.28" fill="#2fb34b" />
<circle cx="300.40" cy="537.40" r="1.28" fill="#2fb34b" />
<circle cx="302.60" cy="539.80" r="1.28" fill="#2fb34b" />
<line x1="261.00" y1="544.10" x2="261.00" y2="546.50" stroke="#000" stroke-width="0.9" />
<line x1="281.50" y1="544.10" x2="281.50" y2="546.50" stroke="#000" stroke-width="0.9" />
<line x1="301.60" y1="544.10" x2="301.60" y2="546.50" stroke="#000" stroke-width="0.9" />
<text transform="translate(262.20,550.90) rotate(-45)" y="2.26" font-size="6.3" text-anchor="end" fill="#231f20" font-weight="normal" >Sham</text>
<text transform="translate(282.70,550.90) rotate(-45)" y="2.26" font-size="6.3" text-anchor="end" fill="#231f20" font-weight="normal" >Vehicle</text>
<text transform="translate(302.80,550.90) rotate(-45)" y="2.26" font-size="6.3" text-anchor="end" fill="#231f20" font-weight="normal" >DSF</text>
<line x1="259.50" y1="486.00" x2="280.00" y2="486.00" stroke="#4d4d4f" stroke-width="1.3" />
<text x="269.75" y="485.91" font-size="7.0" text-anchor="middle" fill="#111" font-weight="bold" >***</text>
<line x1="283.00" y1="486.00" x2="303.00" y2="486.00" stroke="#4d4d4f" stroke-width="1.3" />
<text x="293.00" y="485.91" font-size="7.0" text-anchor="middle" fill="#111" font-weight="bold" >**</text>
<line x1="263.80" y1="570.50" x2="298.80" y2="570.50" stroke="#333" stroke-width="1.1" />
<text x="281.30" y="579.37" font-size="6.35" text-anchor="middle" fill="#231f20" font-weight="normal" >Therapeutic</text>
<text x="337.00" y="472.14" font-size="11" text-anchor="start" fill="#000" font-weight="bold" >N</text>
<line x1="375.50" y1="484.80" x2="375.50" y2="544.70" stroke="#000" stroke-width="1.2" />
<line x1="374.90" y1="544.10" x2="442.20" y2="544.10" stroke="#000" stroke-width="1.2" />
<line x1="372.30" y1="544.10" x2="375.50" y2="544.10" stroke="#000" stroke-width="0.9" />
<text x="370.00" y="546.21" font-size="5.9" text-anchor="end" fill="#231f20" font-weight="normal" >0</text>
<line x1="372.30" y1="534.75" x2="375.50" y2="534.75" stroke="#000" stroke-width="0.9" />
<text x="370.00" y="536.86" font-size="5.9" text-anchor="end" fill="#231f20" font-weight="normal" >20</text>
<line x1="372.30" y1="525.40" x2="375.50" y2="525.40" stroke="#000" stroke-width="0.9" />
<text x="370.00" y="527.51" font-size="5.9" text-anchor="end" fill="#231f20" font-weight="normal" >40</text>
<line x1="372.30" y1="516.05" x2="375.50" y2="516.05" stroke="#000" stroke-width="0.9" />
<text x="370.00" y="518.16" font-size="5.9" text-anchor="end" fill="#231f20" font-weight="normal" >60</text>
<line x1="372.30" y1="506.70" x2="375.50" y2="506.70" stroke="#000" stroke-width="0.9" />
<text x="370.00" y="508.81" font-size="5.9" text-anchor="end" fill="#231f20" font-weight="normal" >80</text>
<line x1="372.30" y1="497.35" x2="375.50" y2="497.35" stroke="#000" stroke-width="0.9" />
<text x="370.00" y="499.46" font-size="5.9" text-anchor="end" fill="#231f20" font-weight="normal" >100</text>
<line x1="372.30" y1="488.00" x2="375.50" y2="488.00" stroke="#000" stroke-width="0.9" />
<text x="370.00" y="490.11" font-size="5.9" text-anchor="end" fill="#231f20" font-weight="normal" >120</text>
<text transform="translate(344.40,536.00) rotate(-90)" font-size="8.2" textLength="41.6" lengthAdjust="spacingAndGlyphs" fill="#231f20">Kidney NETing</text>
<text transform="translate(354.20,551.00) rotate(-90)" font-size="8.2" textLength="74.0" lengthAdjust="spacingAndGlyphs" fill="#231f20">neutrophils (/mg kidney)</text>
<rect x="382.70" y="533.40" width="12.40" height="10.20" fill="#8d9dc9" />
<rect x="402.70" y="506.00" width="12.50" height="37.60" fill="#ee8b80" />
<rect x="422.60" y="534.00" width="12.40" height="9.60" fill="#a6d38e" />
<line x1="388.90" y1="528.20" x2="388.90" y2="537.00" stroke="#12408f" stroke-width="1.0" />
<line x1="386.40" y1="528.20" x2="391.40" y2="528.20" stroke="#12408f" stroke-width="1.0" />
<line x1="386.40" y1="537.00" x2="391.40" y2="537.00" stroke="#12408f" stroke-width="1.0" />
<line x1="409.00" y1="492.20" x2="409.00" y2="519.00" stroke="#cf1138" stroke-width="1.0" />
<line x1="406.50" y1="492.20" x2="411.50" y2="492.20" stroke="#cf1138" stroke-width="1.0" />
<line x1="406.50" y1="519.00" x2="411.50" y2="519.00" stroke="#cf1138" stroke-width="1.0" />
<line x1="428.80" y1="528.50" x2="428.80" y2="537.60" stroke="#2fb34b" stroke-width="1.0" />
<line x1="426.30" y1="528.50" x2="431.30" y2="528.50" stroke="#2fb34b" stroke-width="1.0" />
<line x1="426.30" y1="537.60" x2="431.30" y2="537.60" stroke="#2fb34b" stroke-width="1.0" />
<path d="M387.28,529.07 L390.52,529.07 L388.90,526.25Z" fill="#12408f"/>
<circle cx="387.40" cy="536.20" r="1.28" fill="#12408f" />
<circle cx="391.40" cy="534.40" r="1.28" fill="#12408f" />
<circle cx="389.00" cy="536.80" r="1.28" fill="#12408f" />
<circle cx="409.00" cy="495.20" r="1.28" fill="#cf1138" />
<circle cx="407.00" cy="499.60" r="1.28" fill="#cf1138" />
<circle cx="410.60" cy="501.60" r="1.28" fill="#cf1138" />
<circle cx="409.00" cy="525.00" r="1.28" fill="#cf1138" />
<circle cx="427.00" cy="527.60" r="1.28" fill="#2fb34b" />
<circle cx="430.60" cy="530.40" r="1.28" fill="#2fb34b" />
<circle cx="427.60" cy="537.40" r="1.28" fill="#2fb34b" />
<circle cx="430.00" cy="537.80" r="1.28" fill="#2fb34b" />
<line x1="388.90" y1="544.10" x2="388.90" y2="546.50" stroke="#000" stroke-width="0.9" />
<line x1="409.00" y1="544.10" x2="409.00" y2="546.50" stroke="#000" stroke-width="0.9" />
<line x1="428.80" y1="544.10" x2="428.80" y2="546.50" stroke="#000" stroke-width="0.9" />
<text transform="translate(390.10,550.90) rotate(-45)" y="2.26" font-size="6.3" text-anchor="end" fill="#231f20" font-weight="normal" >Sham</text>
<text transform="translate(410.20,550.90) rotate(-45)" y="2.26" font-size="6.3" text-anchor="end" fill="#231f20" font-weight="normal" >Vehicle</text>
<text transform="translate(430.00,550.90) rotate(-45)" y="2.26" font-size="6.3" text-anchor="end" fill="#231f20" font-weight="normal" >DSF</text>
<line x1="387.20" y1="486.10" x2="407.30" y2="486.10" stroke="#4d4d4f" stroke-width="1.3" />
<text x="397.25" y="486.01" font-size="7.0" text-anchor="middle" fill="#111" font-weight="bold" >**</text>
<line x1="410.10" y1="486.10" x2="430.20" y2="486.10" stroke="#4d4d4f" stroke-width="1.3" />
<text x="420.15" y="486.01" font-size="7.0" text-anchor="middle" fill="#111" font-weight="bold" >**</text>
<line x1="391.40" y1="570.50" x2="425.80" y2="570.50" stroke="#333" stroke-width="1.1" />
<text x="408.60" y="579.37" font-size="6.35" text-anchor="middle" fill="#231f20" font-weight="normal" >Therapeutic</text>
<defs>
<filter id="nB1" x="0" y="0" width="100%" height="100%" color-interpolation-filters="sRGB"><feTurbulence type="fractalNoise" baseFrequency="0.3" numOctaves="2" seed="11"/><feColorMatrix type="matrix" values="0.14 0 0 0 0.895  0.14 0 0 0 0.886  0.14 0 0 0 0.889  0 0 0 0 1"/></filter>
<filter id="nB2" x="0" y="0" width="100%" height="100%" color-interpolation-filters="sRGB"><feTurbulence type="fractalNoise" baseFrequency="0.3" numOctaves="2" seed="5"/><feColorMatrix type="matrix" values="0.28 0 0 0 0.664  0.28 0 0 0 0.707  0.28 0 0 0 0.711  0 0 0 0 1"/></filter>
<filter id="nB3" x="0" y="0" width="100%" height="100%" color-interpolation-filters="sRGB"><feTurbulence type="fractalNoise" baseFrequency="0.28" numOctaves="2" seed="9"/><feColorMatrix type="matrix" values="0.24 0 0 0 0.672  0.24 0 0 0 0.696  0.24 0 0 0 0.704  0 0 0 0 1"/></filter>
<filter id="nB4" x="0" y="0" width="100%" height="100%" color-interpolation-filters="sRGB"><feTurbulence type="fractalNoise" baseFrequency="0.3" numOctaves="2" seed="21"/><feColorMatrix type="matrix" values="0.24 0 0 0 0.707  0.24 0 0 0 0.735  0.24 0 0 0 0.739  0 0 0 0 1"/></filter>
<filter id="nB5" x="0" y="0" width="100%" height="100%" color-interpolation-filters="sRGB"><feTurbulence type="fractalNoise" baseFrequency="0.28" numOctaves="2" seed="31"/><feColorMatrix type="matrix" values="0.24 0 0 0 0.668  0.24 0 0 0 0.692  0.24 0 0 0 0.698  0 0 0 0 1"/></filter>
<filter id="nB6" x="0" y="0" width="100%" height="100%" color-interpolation-filters="sRGB"><feTurbulence type="fractalNoise" baseFrequency="0.32" numOctaves="2" seed="41"/><feColorMatrix type="matrix" values="0.32 0 0 0 0.622  0.32 0 0 0 0.672  0.32 0 0 0 0.678  0 0 0 0 1"/></filter>
<filter id="nG1" x="0" y="0" width="100%" height="100%" color-interpolation-filters="sRGB"><feTurbulence type="fractalNoise" baseFrequency="0.35" numOctaves="2" seed="4"/><feColorMatrix type="matrix" values="0.22 0 0 0 0.712  0.3 0 0 0 0.56  0.2 0 0 0 0.737  0 0 0 0 1"/></filter>
<filter id="aG1" x="0" y="0" width="100%" height="100%" color-interpolation-filters="sRGB"><feTurbulence type="fractalNoise" baseFrequency="0.13" numOctaves="2" seed="14"/><feColorMatrix type="matrix" values="0 0 0 0 0.863  0 0 0 0 0.863  0 0 0 0 0.941  5.5 0 0 0 -2.45"/></filter>
<filter id="nG2" x="0" y="0" width="100%" height="100%" color-interpolation-filters="sRGB"><feTurbulence type="fractalNoise" baseFrequency="0.4" numOctaves="2" seed="8"/><feColorMatrix type="matrix" values="0.18 0 0 0 0.708  0.2 0 0 0 0.674  0.14 0 0 0 0.8  0 0 0 0 1"/></filter>
<filter id="aG2" x="0" y="0" width="100%" height="100%" color-interpolation-filters="sRGB"><feTurbulence type="fractalNoise" baseFrequency="0.33" numOctaves="2" seed="23"/><feColorMatrix type="matrix" values="0 0 0 0 0.929  0 0 0 0 0.922  0 0 0 0 0.976  7 0 0 0 -3.55"/></filter>
<linearGradient id="gG1" x1="0" y1="0" x2="1" y2="0.15"><stop offset="0" stop-color="#fff"/><stop offset="0.3" stop-color="#e4e4e4"/><stop offset="0.5" stop-color="#666"/><stop offset="1" stop-color="#333"/></linearGradient>
<linearGradient id="gG1b" x1="0" y1="1" x2="0" y2="0"><stop offset="0" stop-color="#fff" stop-opacity="0.8"/><stop offset="0.3" stop-color="#fff" stop-opacity="0.35"/><stop offset="0.45" stop-color="#fff" stop-opacity="0"/></linearGradient>
<mask id="mG1" maskUnits="userSpaceOnUse" x="347" y="199" width="83" height="67"><rect x="347" y="199" width="83" height="67" fill="url(#gG1)"/><rect x="347" y="199" width="83" height="67" fill="url(#gG1b)"/></mask>
<radialGradient id="dens"><stop offset="0" stop-color="#e8e23a"/><stop offset="0.18" stop-color="#7fd34e"/><stop offset="0.38" stop-color="#2fb8a0"/><stop offset="0.58" stop-color="#2f7fd0"/><stop offset="0.8" stop-color="#2c3fb8" stop-opacity="0.9"/><stop offset="1" stop-color="#4a55c0" stop-opacity="0"/></radialGradient>
<radialGradient id="densB"><stop offset="0" stop-color="#36c6c0"/><stop offset="0.3" stop-color="#2f8fd8"/><stop offset="0.7" stop-color="#3b4fc0" stop-opacity="0.8"/><stop offset="1" stop-color="#4a55c0" stop-opacity="0"/></radialGradient>
<radialGradient id="densC"><stop offset="0" stop-color="#4a5fc8" stop-opacity="0.55"/><stop offset="0.6" stop-color="#5a6fd0" stop-opacity="0.3"/><stop offset="1" stop-color="#6a7fd8" stop-opacity="0"/></radialGradient>
<radialGradient id="densD"><stop offset="0" stop-color="#6fcf70"/><stop offset="0.3" stop-color="#35b0a8"/><stop offset="0.6" stop-color="#3a78cc" stop-opacity="0.85"/><stop offset="1" stop-color="#4a55c0" stop-opacity="0"/></radialGradient>
<radialGradient id="kR" cx="0.45" cy="0.45" r="0.6"><stop offset="0" stop-color="#c8143a"/><stop offset="0.7" stop-color="#b80f2f"/><stop offset="1" stop-color="#8a0a22"/></radialGradient>
<radialGradient id="kD" cx="0.45" cy="0.45" r="0.6"><stop offset="0" stop-color="#b60f2e"/><stop offset="0.7" stop-color="#a30b28"/><stop offset="1" stop-color="#78081c"/></radialGradient>
<radialGradient id="kT" cx="0.5" cy="0.5" r="0.6"><stop offset="0" stop-color="#dcae8c"/><stop offset="0.6" stop-color="#e6cdb4"/><stop offset="1" stop-color="#eadccb"/></radialGradient>
<radialGradient id="kT2" cx="0.5" cy="0.5" r="0.6"><stop offset="0" stop-color="#d3a077"/><stop offset="0.6" stop-color="#d9b08a"/><stop offset="1" stop-color="#e0c6a8"/></radialGradient>
<pattern id="grid" x="148" y="195.3" width="3.74" height="3.74" patternUnits="userSpaceOnUse"><rect width="3.74" height="3.74" fill="#fff"/><path d="M0.45,0V3.74M0,0.45H3.74" stroke="#2a2a2a" stroke-width="0.65"/></pattern>
<filter id="soft" x="-5%" y="-5%" width="110%" height="110%"><feGaussianBlur stdDeviation="0.4"/></filter>
</defs>
<text x="117.60" y="16.14" font-size="11" text-anchor="start" fill="#000" font-weight="bold" >B</text>
<text x="190.80" y="16.57" font-size="6.35" text-anchor="middle" fill="#231f20" font-weight="normal" >Therapeutic</text>
<line x1="141.60" y1="20.60" x2="243.30" y2="20.60" stroke="#333" stroke-width="1.0" />
<text x="166.50" y="29.72" font-size="6.2" text-anchor="middle" fill="#231f20" font-weight="normal" >Vehicle</text>
<text x="218.00" y="29.72" font-size="6.2" text-anchor="middle" fill="#231f20" font-weight="normal" >DSF</text>
<line x1="128.40" y1="33.20" x2="128.40" y2="156.80" stroke="#333" stroke-width="0.9" />
<text transform="translate(124.4,115.2) rotate(-90)" font-size="6.1" textLength="37.4" lengthAdjust="spacingAndGlyphs" fill="#231f20"><tspan fill="#d8283f">αSMA</tspan>/Fibrin</text>
<text transform="translate(137.0,67.4) rotate(-90)" font-size="5.9" textLength="27.2" lengthAdjust="spacingAndGlyphs" fill="#231f20">Interlobar</text>
<text transform="translate(137.0,105.8) rotate(-90)" font-size="5.9" textLength="21.2" lengthAdjust="spacingAndGlyphs" fill="#231f20">Arcuate</text>
<text transform="translate(137.0,153.4) rotate(-90)" font-size="5.9" textLength="33" lengthAdjust="spacingAndGlyphs" fill="#231f20">Interlobular</text>
<clipPath id="cb00"><rect x="141.2" y="33.9" width="50.4" height="40.0"/></clipPath>
<g clip-path="url(#cb00)">
<rect x="141.2" y="33.9" width="50.4" height="40.0" filter="url(#nB1)"/>
<g filter="url(#soft)"><ellipse cx="166.5" cy="62.5" rx="6.5" ry="5" fill="#bfc3c2" opacity="0.7"/><ellipse cx="171.6" cy="49" rx="5.2" ry="4.6" fill="#c3bcc1" opacity="0.8"/><path d="M146.6,64 C150,57 157,49 163.5,44 " fill="none" stroke="#e79cb0" stroke-width="3.4" stroke-linecap="round" opacity="0.9"/><ellipse cx="171.6" cy="48.6" rx="7.2" ry="6.6" fill="none" stroke="#e388a0" stroke-width="3.0" opacity="0.9"/><path d="M147.4,63.6 C151,57 157,50 163,45.4" fill="none" stroke="#f7e9ed" stroke-width="0.9"/><path d="M141,50 L149,57 M143,46 l5,4 M142,41 l6,3 M153,70 C165,70 176,64 191,51 M158,73 C170,72 181,65 191.6,55 M152,66 l8,4 M160,58 c3,-2 6,-1 8,1 M184,42 l6,-3 M183,50 l8,-4" stroke="#a9a5a8" stroke-width="1.0" fill="none" opacity="0.85"/><path d="M158,69 C163,66 170,67 174,63 M161,72 C168,70 176,69 181,62" stroke="#8f8d8f" stroke-width="1.1" fill="none" opacity="0.7"/><text x="183.6" y="70" font-size="4.4" text-anchor="middle" fill="#1a1a1a" font-weight="bold">20 μm</text><rect x="183.4" y="71.2" width="4.2" height="0.9" fill="#111"/></g>
</g>
<clipPath id="cb10"><rect x="193.3" y="33.9" width="49.9" height="40.0"/></clipPath>
<g clip-path="url(#cb10)">
<rect x="193.3" y="33.9" width="49.9" height="40.0" filter="url(#nB2)"/>
<g filter="url(#soft)"><path d="M226,38 L230,36 L243.3,60 L243.3,74 L196,74 C205,70 213,66 219,61 L226,50Z" fill="#f0f3f3" opacity="0.72"/><ellipse cx="219.3" cy="52.3" rx="9.0" ry="3.9" transform="rotate(-43.6 219.3 52.3)" fill="#f3f1f2" stroke="#df6a80" stroke-width="1.5"/><path d="M213.0,55.4 C212,58.6 214.6,61.2 218.4,60.2 C220.4,59.6 222,58 223.6,56.2" fill="none" stroke="#d62c4a" stroke-width="2.0" stroke-linecap="round"/><path d="M222,45.2 C224,43.6 226.6,44.2 227,46.8" fill="none" stroke="#d8485f" stroke-width="1.2" stroke-linecap="round"/><rect x="238.8" y="71.4" width="2.8" height="0.9" fill="#111"/></g>
</g>
<clipPath id="cb01"><rect x="141.2" y="75.4" width="50.4" height="39.6"/></clipPath>
<g clip-path="url(#cb01)">
<rect x="141.2" y="75.4" width="50.4" height="39.6" filter="url(#nB3)"/>
<g filter="url(#soft)"><path d="M140.6,104.4 C148,105.6 155,105.6 160.4,105.4 C165,105 167,101 171.4,94.4 C175,89 178,86.6 180.4,85.2 C184,83 188,82 192,81.2" fill="none" stroke="#d9a9b4" stroke-width="3.8" opacity="0.7"/><path d="M140.6,104.4 C148,105.6 155,105.6 160.4,105.4 C165,105 167,101 171.4,94.4 C175,89 178,86.6 180.4,85.2 C184,83 188,82 192,81.2" fill="none" stroke="#e6d6da" stroke-width="2.0" opacity="0.9"/><path d="M163.6,105 l1.8,2.6" stroke="#dca3b0" stroke-width="2.2" stroke-linecap="round"/><rect x="182.2" y="111.9" width="6.6" height="1.0" fill="#111"/></g>
</g>
<clipPath id="cb11"><rect x="193.3" y="75.4" width="49.9" height="39.6"/></clipPath>
<g clip-path="url(#cb11)">
<rect x="193.3" y="75.4" width="49.9" height="39.6" filter="url(#nB4)"/>
<g filter="url(#soft)"><path d="M193.3,75.4 H222 L204,100 L196,115 H193.3Z" fill="#e3e7e7" opacity="0.6"/><path d="M204.6,107.8 C206,104 209,101 216.8,91 C219.4,87.6 221.6,84.6 223.4,82 C224.6,79.6 227.8,79 228.5,81.5 C229.2,84 228.6,86.6 227.9,88.7 C226.8,91.4 225.4,93 223.4,95.6 C221.4,98.6 219.4,101.4 216.8,104.3 C215,106.4 213.4,107.8 211.2,108.9 C209,109.8 205.2,110.6 204.6,107.8Z" fill="#e9e8ea" stroke="#d9566c" stroke-width="1.2"/><path d="M224.4,79.4 l3.4,-0.6 M228.4,90.4 l1.6,1 M200.2,110 l4,-1.4" stroke="#e78fa0" stroke-width="1.9" stroke-linecap="round" fill="none"/><rect x="233.4" y="111.9" width="4.8" height="1.0" fill="#111"/></g>
</g>
<clipPath id="cb02"><rect x="141.2" y="116.7" width="50.4" height="39.8"/></clipPath>
<g clip-path="url(#cb02)">
<rect x="141.2" y="116.7" width="50.4" height="39.8" filter="url(#nB5)"/>
<g filter="url(#soft)"><ellipse cx="167" cy="137.4" rx="3.7" ry="5.1" transform="rotate(-22 167 137.4)" fill="#d8d2d6" stroke="#c98fa0" stroke-width="1.4"/><ellipse cx="167.2" cy="137.2" rx="0.9" ry="1.2" fill="#f4f4f4"/><ellipse cx="182" cy="150.4" rx="6" ry="2.6" transform="rotate(28 182 150.4)" fill="#7f8484" opacity="0.5"/><rect x="181.4" y="153.9" width="7.2" height="1.1" fill="#111"/></g>
</g>
<clipPath id="cb12"><rect x="193.3" y="116.7" width="49.9" height="39.8"/></clipPath>
<g clip-path="url(#cb12)">
<rect x="193.3" y="116.7" width="49.9" height="39.8" filter="url(#nB6)"/>
<g filter="url(#soft)"><rect x="224" y="116.7" width="20" height="39.8" fill="#eef2f2" opacity="0.3"/><path d="M199.5,117.6 C201,121.6 203.6,125.8 206.7,128.7 M203.4,118.7 C204.6,121.6 206.4,124.4 208.4,126.5" fill="none" stroke="#dc4560" stroke-width="2.1" stroke-linecap="round"/><path d="M205.4,128 C207,130.4 210,131.6 213,131.4" fill="none" stroke="#e88fa0" stroke-width="2.0" stroke-linecap="round"/><path d="M216.2,132.4 C219,132.2 222.4,135 223.6,138.2 C220.4,138.8 217,136.4 216.2,132.4Z" fill="#f4efef" stroke="#da3a56" stroke-width="1.3"/><path d="M219.6,131.4 l3.8,-2.8" stroke="#eeb8c2" stroke-width="2.0" stroke-linecap="round"/><rect x="236.4" y="153.7" width="3.2" height="0.9" fill="#111"/></g>
</g>
<text x="115.60" y="180.34" font-size="11" text-anchor="start" fill="#000" font-weight="bold" >E</text>
<text x="165.00" y="190.41" font-size="5.9" text-anchor="middle" fill="#231f20" font-weight="normal" >Sham(R)</text>
<text x="195.90" y="190.41" font-size="5.9" text-anchor="middle" fill="#231f20" font-weight="normal" >TMA(L)</text>
<text transform="translate(118.90,227.50) rotate(-90)" y="2.33" font-size="6.5" text-anchor="middle" fill="#231f20" font-weight="normal" >TTC</text>
<line x1="125.70" y1="197.60" x2="125.70" y2="257.00" stroke="#333" stroke-width="0.9" />
<text transform="translate(131.40,226.00) rotate(-90)" y="2.31" font-size="6.45" text-anchor="middle" fill="#231f20" font-weight="normal" >Therapeutic</text>
<text transform="translate(141.60,209.30) rotate(-90)" y="2.15" font-size="6.0" text-anchor="middle" fill="#231f20" font-weight="normal" >Vehicle</text>
<text transform="translate(141.60,240.50) rotate(-90)" y="2.15" font-size="6.0" text-anchor="middle" fill="#231f20" font-weight="normal" >DSF</text>
<rect x="148.00" y="195.30" width="63.80" height="27.20" fill="url(#grid)" />
<rect x="148.00" y="224.60" width="63.80" height="31.20" fill="url(#grid)" />
<rect x="179.60" y="195.30" width="0.90" height="27.20" fill="#fff" />
<rect x="179.60" y="224.60" width="0.90" height="31.20" fill="#fff" />
<ellipse cx="157.3" cy="207" rx="4.9" ry="10.8" transform="rotate(3 157.3 207)" fill="url(#kR)"/>
<path d="M165.2,204 C165.4,199 170,196 174.6,197 C178.4,198 179.4,202.4 177,205 C175.2,207 175.4,209.6 177,212 C179.2,215.6 177.4,219.2 173.2,219.8 C168.4,220.2 165.2,214 165.2,204Z" fill="url(#kR)"/>
<path d="M169.6,205.4 C170.6,202.4 173.6,201.4 175.4,203 C173.6,204.8 172.6,207 173.4,210 C174.4,213 173,216 171,215 C169.4,212 168.8,208.4 169.6,205.4Z" fill="#eda9b6" opacity="0.75"/>
<ellipse cx="188" cy="207.6" rx="3.9" ry="10.8" transform="rotate(1 188 207.6)" fill="url(#kT)"/>
<ellipse cx="187.8" cy="208.6" rx="1.3" ry="6" fill="#b84a40" opacity="0.55"/>
<ellipse cx="199.7" cy="207" rx="3.8" ry="10.1" transform="rotate(-1 199.7 207)" fill="url(#kT2)"/>
<ellipse cx="156.1" cy="239.2" rx="5.8" ry="12.5" transform="rotate(5 156.1 239.2)" fill="url(#kD)"/>
<path d="M164.2,237 C164.4,230.6 168.8,226.2 173.6,227 C177.6,228 179,233 177,237.4 C175.6,240.6 176,243.6 176.2,246.6 C176.4,250.6 173,253.4 169.4,253 C165.4,252 164,244 164.2,237Z" fill="url(#kD)"/>
<path d="M171.5,236 C173,233 175.5,233.5 175,236 C174,239 173.5,243 174,246 C173,248 171.5,246 171.5,243Z" fill="#e7b3bd" opacity="0.55"/>
<path d="M184.2,228.6 C187.6,225.4 192.6,230.4 194.2,238 C195.2,245.4 192.6,251.6 188.4,252.4 C185.2,252.6 183.6,248.6 183.6,242 C183.6,237 183.2,231.6 184.2,228.6Z" fill="url(#kD)"/>
<ellipse cx="203.5" cy="239.5" rx="4.8" ry="12.1" transform="rotate(-3 203.5 239.5)" fill="url(#kD)"/>
<line x1="197.80" y1="258.60" x2="206.40" y2="258.60" stroke="#111" stroke-width="1.0" />
<text x="201.40" y="265.98" font-size="5.8" text-anchor="middle" fill="#231f20" font-weight="normal" >4 mm</text>
<text x="335.80" y="180.44" font-size="11" text-anchor="start" fill="#000" font-weight="bold" >G</text>
<text x="407.5" y="180.90" font-size="8.1" textLength="43.8" lengthAdjust="spacingAndGlyphs" fill="#231f20">Therapeutic</text>
<line x1="346.40" y1="185.40" x2="514.00" y2="185.40" stroke="#333" stroke-width="1.1" />
<text x="387.60" y="194.66" font-size="6.3" text-anchor="middle" fill="#231f20" font-weight="normal" >Vehicle</text>
<text x="469.80" y="197.49" font-size="6.4" text-anchor="middle" fill="#231f20" font-weight="normal" >DSF</text>
<text transform="translate(339.20,232.00) rotate(-90)" y="2.61" font-size="7.3" text-anchor="middle" fill="#231f20" font-weight="normal" >PAS</text>
<rect x="347.3" y="199.6" width="81.8" height="65.8" filter="url(#nG1)"/>
<g mask="url(#mG1)"><rect x="347.3" y="199.6" width="81.8" height="65.8" filter="url(#aG1)"/></g>
<rect x="431" y="199.6" width="81.8" height="65.8" filter="url(#nG2)"/>
<rect x="431" y="199.6" width="81.8" height="65.8" filter="url(#aG2)" opacity="0.85"/>
<text x="418.20" y="258.06" font-size="5.2" text-anchor="middle" fill="#111" font-weight="normal" >20 μm</text>
<rect x="421.00" y="262.10" width="4.30" height="1.10" fill="#111" />
<rect x="504.00" y="262.60" width="4.00" height="1.10" fill="#111" />
<text x="118.20" y="313.94" font-size="11" text-anchor="start" fill="#000" font-weight="bold" >I</text>
<text x="168.7" y="314.02" font-size="9.0" textLength="49.5" lengthAdjust="spacingAndGlyphs" fill="#231f20">Therapeutic</text>
<line x1="142.30" y1="318.80" x2="244.20" y2="318.80" stroke="#333" stroke-width="1.1" />
<text x="152.5" y="329.39" font-size="7.8" textLength="27" lengthAdjust="spacingAndGlyphs" fill="#231f20">Vehicle</text>
<text x="211.8" y="329.39" font-size="7.8" textLength="15.3" lengthAdjust="spacingAndGlyphs" fill="#231f20">DSF</text>
<text transform="translate(119.20,359.50) rotate(-90)" y="2.86" font-size="8.0" text-anchor="middle" fill="#231f20" font-weight="normal" >Blood</text>
<text transform="translate(119.20,411.00) rotate(-90)" y="2.86" font-size="8.0" text-anchor="middle" fill="#231f20" font-weight="normal" >Kidney</text>
<line x1="131.80" y1="338.60" x2="131.80" y2="412.50" stroke="#333" stroke-width="0.9" />
<path d="M129.7,339.9 L131.8,335.5 L133.9,339.9Z" fill="#222"/>
<text transform="translate(134.3,430.2) rotate(-90)" font-size="7.2" textLength="14.7" lengthAdjust="spacingAndGlyphs" fill="#231f20">Ly6G</text>
<text x="145.7" y="447.78" font-size="7.2" textLength="14.1" lengthAdjust="spacingAndGlyphs" fill="#231f20">Ly6C</text>
<line x1="163.20" y1="445.20" x2="240.50" y2="445.20" stroke="#333" stroke-width="0.9" />
<path d="M239.6,442.9 L244.6,445.2 L239.6,447.5Z" fill="#222"/>
<clipPath id="ci00"><rect x="140.8" y="334.8" width="50.7" height="49.4"/></clipPath>
<rect x="140.8" y="334.8" width="50.7" height="49.4" fill="#fff"/>
<g clip-path="url(#ci00)">
<path d="M149.0,374.6h0.01M149.1,370.4h0.01M146.3,370.9h0.01M154.4,374.1h0.01M154.1,373.2h0.01M151.6,372.9h0.01M143.3,376.3h0.01M152.0,374.5h0.01M143.2,363.3h0.01M146.4,369.7h0.01M151.2,371.8h0.01M152.1,368.8h0.01M151.2,374.0h0.01M147.4,380.6h0.01M152.2,378.0h0.01M147.5,368.3h0.01M148.6,371.5h0.01M152.5,373.2h0.01M148.2,367.2h0.01M147.9,378.1h0.01M146.8,373.2h0.01M151.7,364.6h0.01M150.2,378.5h0.01M141.9,370.4h0.01M149.6,367.9h0.01M152.0,371.7h0.01M144.1,376.1h0.01M152.7,376.7h0.01M155.8,373.8h0.01M150.5,365.5h0.01M152.5,368.9h0.01M148.2,365.7h0.01M146.1,369.3h0.01M155.2,361.8h0.01M144.2,373.2h0.01M155.8,374.9h0.01M142.4,359.4h0.01M151.4,368.3h0.01M145.5,376.9h0.01M154.4,372.8h0.01M151.0,374.2h0.01M156.4,375.1h0.01M152.1,374.7h0.01M143.7,378.4h0.01M153.8,374.6h0.01M142.1,368.8h0.01M153.4,362.9h0.01M149.3,377.1h0.01M144.8,380.1h0.01M152.2,371.2h0.01M151.3,375.2h0.01M150.5,377.7h0.01M147.4,369.9h0.01M154.2,372.1h0.01M146.5,376.7h0.01M155.9,369.8h0.01M144.5,371.3h0.01M149.4,370.5h0.01M155.6,366.9h0.01M155.0,365.7h0.01M146.9,375.2h0.01M154.5,376.3h0.01M151.4,372.7h0.01M150.6,374.9h0.01M149.3,373.4h0.01M152.3,372.0h0.01M153.1,374.8h0.01M158.0,373.6h0.01M148.3,370.1h0.01M149.9,376.6h0.01M148.7,373.9h0.01M157.3,359.2h0.01M145.5,373.2h0.01M151.6,373.2h0.01M148.3,375.3h0.01M151.1,369.4h0.01M159.7,373.8h0.01M147.8,371.5h0.01M149.1,371.7h0.01M139.1,369.6h0.01M154.0,366.2h0.01M149.7,376.8h0.01M153.4,379.5h0.01M143.2,370.2h0.01M148.6,375.1h0.01M154.4,358.6h0.01M154.4,364.8h0.01M152.7,364.5h0.01M150.7,378.0h0.01M149.4,373.0h0.01M153.2,372.7h0.01M149.6,379.7h0.01M154.2,370.5h0.01M161.0,366.3h0.01M153.7,370.7h0.01M150.5,375.5h0.01M150.9,375.2h0.01M143.9,364.5h0.01M152.5,367.2h0.01M145.9,364.6h0.01M155.1,375.7h0.01M155.9,367.3h0.01M150.0,366.3h0.01M153.1,379.9h0.01M146.4,379.8h0.01M154.0,371.1h0.01M142.1,379.0h0.01M149.6,369.0h0.01M151.6,374.0h0.01M156.0,366.9h0.01M154.5,379.4h0.01M155.8,371.1h0.01M147.0,377.1h0.01M150.5,372.6h0.01M155.7,370.7h0.01M140.8,370.1h0.01M142.6,376.1h0.01M151.3,368.9h0.01M150.0,376.2h0.01M150.3,378.6h0.01M149.8,377.2h0.01M156.0,380.0h0.01M147.3,376.4h0.01M142.5,366.6h0.01M142.1,377.3h0.01M145.1,371.9h0.01M149.2,371.9h0.01M147.6,373.2h0.01M157.2,372.2h0.01M152.1,377.0h0.01" stroke="#5468c8" stroke-width="0.64" stroke-linecap="round" opacity="0.4" fill="none"/><path d="M166.6,366.0h0.01M164.1,375.3h0.01M156.5,368.6h0.01M175.1,374.2h0.01M168.1,374.2h0.01M169.2,366.3h0.01M157.1,368.4h0.01M174.5,368.7h0.01M161.7,367.9h0.01M157.3,370.5h0.01M159.7,372.5h0.01M151.5,372.3h0.01M163.5,363.2h0.01M173.1,369.9h0.01M152.4,367.5h0.01M170.0,369.2h0.01M173.5,374.0h0.01M172.7,372.3h0.01M177.3,373.6h0.01M171.2,362.7h0.01M174.3,376.2h0.01M165.9,369.1h0.01M181.6,364.0h0.01M171.3,380.7h0.01M161.5,373.8h0.01M181.2,370.5h0.01M171.9,374.6h0.01M161.7,370.6h0.01M170.0,374.3h0.01M167.8,370.2h0.01M160.9,369.6h0.01M174.2,371.4h0.01M162.0,367.6h0.01M186.7,375.6h0.01M172.5,360.6h0.01M172.4,372.9h0.01M179.8,372.7h0.01M167.5,373.1h0.01M154.4,375.1h0.01M170.3,368.2h0.01M177.3,378.2h0.01M158.2,368.3h0.01M170.0,371.7h0.01M165.2,367.1h0.01M182.8,375.1h0.01M159.6,365.6h0.01M179.9,375.0h0.01M180.7,374.2h0.01M161.9,372.0h0.01M152.9,368.0h0.01M167.6,373.1h0.01M162.9,370.5h0.01M171.2,372.5h0.01M172.5,371.8h0.01M165.7,374.2h0.01M168.3,367.7h0.01M163.6,371.0h0.01M167.2,371.6h0.01M168.0,371.7h0.01M167.1,366.0h0.01M170.9,375.2h0.01M171.0,370.2h0.01M171.1,367.1h0.01M154.7,371.2h0.01M161.5,374.0h0.01M160.4,360.5h0.01M160.7,377.3h0.01M165.3,365.5h0.01M162.7,373.1h0.01M171.5,371.7h0.01M178.4,373.8h0.01M167.9,373.4h0.01M179.6,374.9h0.01M175.2,366.7h0.01M167.0,373.9h0.01M165.9,375.3h0.01M172.2,374.6h0.01M166.5,381.2h0.01M176.7,370.1h0.01M168.6,381.4h0.01" stroke="#5468c8" stroke-width="0.64" stroke-linecap="round" opacity="0.35" fill="none"/><path d="M178.6,354.4h0.01M183.9,350.0h0.01M175.3,350.9h0.01M181.4,355.6h0.01M183.1,350.1h0.01M183.4,352.7h0.01M180.8,350.3h0.01M179.0,353.4h0.01M175.8,346.9h0.01M180.0,342.7h0.01M178.3,340.0h0.01M177.3,352.8h0.01M182.3,349.7h0.01M179.1,342.9h0.01M187.3,352.6h0.01M184.4,345.6h0.01M179.3,340.9h0.01M183.1,354.7h0.01M172.4,349.7h0.01M182.5,341.2h0.01M172.7,344.7h0.01M177.5,343.0h0.01M180.1,351.2h0.01M182.5,353.5h0.01M186.0,355.8h0.01M174.8,347.5h0.01M175.8,344.6h0.01M179.7,350.0h0.01M182.0,342.1h0.01M175.0,349.9h0.01M179.2,348.4h0.01M179.7,346.2h0.01M182.8,351.8h0.01M179.6,346.6h0.01M179.3,336.4h0.01M176.1,350.2h0.01M174.0,351.0h0.01M180.6,343.1h0.01M179.0,348.4h0.01M181.8,353.1h0.01" stroke="#5468c8" stroke-width="0.64" stroke-linecap="round" opacity="0.35" fill="none"/><ellipse cx="170.6" cy="356.2" rx="5.8" ry="9.0" transform="rotate(15 170.6 356.2)" fill="url(#dens)" stroke="none" stroke-width="0.8" opacity="0.92"/><ellipse cx="181.6" cy="364" rx="3.4" ry="7.4" transform="rotate(27 181.6 364)" fill="url(#densB)" stroke="none" stroke-width="0.8" opacity="0.9"/><ellipse cx="169.5" cy="357" rx="7.0" ry="10.6" transform="rotate(15 169.5 357)" fill="none" stroke="#7a5a62" stroke-width="0.8" opacity="1"/><ellipse cx="181.8" cy="363" rx="5.0" ry="10.2" transform="rotate(27 181.8 363)" fill="none" stroke="#4a5088" stroke-width="0.8" opacity="1"/><text x="160.80" y="346.72" font-size="6.2" text-anchor="middle" fill="#222" font-weight="normal" >88.3</text><line x1="154.20" y1="348.00" x2="167.20" y2="348.00" stroke="#dc4f38" stroke-width="0.8" /><text x="184.60" y="381.02" font-size="6.2" text-anchor="middle" fill="#222" font-weight="normal" >8.30</text>
</g>
<rect x="140.8" y="334.8" width="50.7" height="49.4" fill="none" stroke="#8c8c8c" stroke-width="0.7"/>
<clipPath id="ci10"><rect x="194.5" y="334.8" width="50.7" height="49.4"/></clipPath>
<rect x="194.5" y="334.8" width="50.7" height="49.4" fill="#fff"/>
<g clip-path="url(#ci10)">
<path d="M203.9,367.7h0.01M203.4,371.7h0.01M206.9,373.5h0.01M201.1,365.2h0.01M202.5,368.3h0.01M199.6,371.4h0.01M202.0,372.5h0.01M206.1,369.9h0.01M213.3,370.4h0.01M208.4,372.6h0.01M208.5,360.1h0.01M201.0,373.2h0.01M206.4,383.7h0.01M205.3,378.4h0.01M207.1,376.7h0.01M206.0,371.2h0.01M206.0,366.6h0.01M208.7,366.9h0.01M205.0,382.6h0.01M203.1,372.1h0.01M208.7,372.1h0.01M200.8,373.3h0.01M206.3,375.6h0.01M200.9,380.8h0.01M210.7,372.1h0.01M205.1,369.9h0.01M209.7,368.5h0.01M206.7,369.6h0.01M201.2,375.6h0.01M209.3,371.9h0.01M201.3,376.1h0.01M203.8,373.6h0.01M210.1,377.7h0.01M201.9,383.4h0.01M204.0,375.9h0.01M201.4,371.8h0.01M197.0,380.9h0.01M209.5,365.9h0.01M198.0,363.9h0.01M208.7,369.7h0.01M203.8,370.4h0.01M203.5,366.6h0.01M204.1,364.8h0.01M203.7,373.5h0.01M205.9,370.8h0.01M200.4,372.8h0.01M202.1,379.8h0.01M207.1,371.4h0.01M202.1,368.5h0.01M200.3,370.2h0.01M205.2,374.6h0.01M206.3,382.5h0.01M201.2,372.1h0.01M215.2,362.7h0.01M201.9,372.8h0.01M204.6,374.0h0.01M203.0,373.8h0.01M204.2,375.9h0.01M196.4,367.6h0.01M204.0,366.8h0.01M199.8,375.1h0.01M201.4,375.2h0.01M207.0,373.5h0.01M206.0,371.5h0.01M198.4,371.8h0.01M205.8,369.4h0.01M203.6,375.7h0.01M200.5,375.2h0.01M211.5,369.2h0.01M204.6,371.2h0.01M210.2,373.6h0.01M207.6,368.5h0.01M203.9,372.0h0.01M196.9,379.2h0.01M207.6,363.3h0.01M207.0,371.3h0.01M205.8,373.8h0.01M198.0,370.9h0.01M210.0,369.1h0.01M199.9,365.2h0.01M199.1,373.7h0.01M210.8,374.1h0.01M205.0,383.2h0.01M201.9,368.6h0.01M206.1,374.7h0.01M199.9,366.2h0.01M205.2,373.2h0.01M198.8,371.0h0.01M201.8,374.3h0.01M203.5,371.6h0.01M202.6,377.3h0.01M209.6,370.2h0.01M207.4,368.2h0.01M204.3,375.7h0.01M210.1,370.1h0.01M203.7,373.0h0.01M198.0,372.1h0.01M201.3,373.9h0.01M199.5,362.1h0.01M204.2,373.3h0.01M201.8,376.4h0.01M202.9,369.0h0.01M205.9,364.2h0.01M201.3,371.9h0.01M207.4,371.2h0.01M205.2,368.7h0.01M205.2,380.3h0.01M201.3,383.8h0.01M201.4,372.1h0.01M204.7,377.1h0.01M199.1,361.5h0.01M206.4,376.0h0.01M206.5,385.2h0.01M204.8,373.3h0.01M207.7,373.8h0.01M210.7,365.8h0.01M202.5,354.8h0.01M207.2,370.1h0.01M207.7,382.8h0.01M204.0,370.7h0.01M202.0,367.8h0.01M201.5,375.2h0.01M204.1,372.3h0.01M203.3,376.6h0.01M206.0,371.3h0.01M206.7,371.2h0.01M199.4,379.3h0.01M205.9,367.2h0.01M208.3,373.7h0.01M197.7,380.0h0.01" stroke="#5468c8" stroke-width="0.64" stroke-linecap="round" opacity="0.4" fill="none"/><path d="M224.3,374.6h0.01M223.4,370.4h0.01M211.2,374.9h0.01M222.2,369.9h0.01M224.5,371.3h0.01M226.7,369.5h0.01M221.7,362.4h0.01M219.0,373.7h0.01M231.4,369.5h0.01M221.2,377.3h0.01M219.7,373.9h0.01M233.7,371.2h0.01M230.6,368.2h0.01M223.5,370.7h0.01M222.8,375.5h0.01M238.7,368.3h0.01M218.0,373.0h0.01M214.6,373.0h0.01M226.0,369.9h0.01M225.7,364.8h0.01M227.3,364.8h0.01M217.1,368.8h0.01M219.2,374.4h0.01M222.6,369.4h0.01M225.8,377.3h0.01M222.0,372.5h0.01M230.7,372.1h0.01M213.0,381.0h0.01M237.5,363.1h0.01M221.7,372.7h0.01M228.8,373.7h0.01M220.1,366.8h0.01M222.7,375.1h0.01M214.4,366.9h0.01M221.8,363.3h0.01M220.2,369.3h0.01M225.2,368.2h0.01M215.8,369.4h0.01M221.7,368.3h0.01M222.1,374.0h0.01M230.3,377.8h0.01M216.5,369.3h0.01M204.6,378.6h0.01M216.9,370.9h0.01M225.7,365.6h0.01M225.2,370.9h0.01M209.2,372.2h0.01M230.4,363.5h0.01M227.7,371.8h0.01M225.3,372.8h0.01M231.1,370.1h0.01M228.1,369.4h0.01M227.1,367.7h0.01M221.2,377.9h0.01M225.1,370.4h0.01M214.0,367.8h0.01M223.4,374.8h0.01M225.0,373.1h0.01M221.7,376.4h0.01M219.3,368.8h0.01M228.2,371.3h0.01M220.1,368.7h0.01M220.2,373.5h0.01M224.5,366.2h0.01M225.0,371.7h0.01M215.0,374.1h0.01M220.0,369.7h0.01M227.6,376.3h0.01M217.2,372.8h0.01M215.9,380.3h0.01M218.5,375.8h0.01M217.5,374.2h0.01M237.5,360.8h0.01M219.0,373.0h0.01M221.3,368.3h0.01M237.1,371.3h0.01M210.5,374.4h0.01M209.9,375.6h0.01M218.0,371.6h0.01M230.8,371.5h0.01" stroke="#5468c8" stroke-width="0.64" stroke-linecap="round" opacity="0.35" fill="none"/><path d="M230.4,341.5h0.01M240.7,353.7h0.01M232.7,354.3h0.01M238.0,353.2h0.01M227.0,348.5h0.01M239.6,353.7h0.01M239.5,337.7h0.01M236.7,352.5h0.01M246.2,345.2h0.01M234.7,350.2h0.01M239.5,347.8h0.01M240.6,346.1h0.01M237.1,347.4h0.01M236.6,346.5h0.01M229.6,355.5h0.01M237.2,347.2h0.01M236.8,355.0h0.01M232.1,349.4h0.01M238.2,352.6h0.01M234.7,339.5h0.01M241.0,351.6h0.01M236.1,348.6h0.01M237.1,347.9h0.01M231.9,346.3h0.01M233.6,346.9h0.01M231.4,353.2h0.01M230.8,353.3h0.01M231.9,351.8h0.01M241.5,351.0h0.01M233.1,350.2h0.01M236.6,341.3h0.01M233.6,350.8h0.01M234.1,350.4h0.01M238.9,353.8h0.01M239.6,352.9h0.01M234.8,349.9h0.01M234.9,348.4h0.01M235.3,341.4h0.01M234.7,349.9h0.01M232.1,349.9h0.01M238.1,349.2h0.01M244.3,337.0h0.01M235.2,340.9h0.01M239.9,363.3h0.01M226.0,350.6h0.01M238.1,348.5h0.01M238.2,338.8h0.01M239.4,351.9h0.01M236.1,347.1h0.01M238.6,347.6h0.01" stroke="#5468c8" stroke-width="0.64" stroke-linecap="round" opacity="0.35" fill="none"/><ellipse cx="224.6" cy="356.2" rx="6.0" ry="9.0" transform="rotate(15 224.6 356.2)" fill="url(#dens)" stroke="none" stroke-width="0.8" opacity="0.92"/><ellipse cx="235.2" cy="364.6" rx="3.4" ry="7.2" transform="rotate(28 235.2 364.6)" fill="url(#densB)" stroke="none" stroke-width="0.8" opacity="0.95"/><ellipse cx="223.2" cy="357.1" rx="7.4" ry="10.8" transform="rotate(15 223.2 357.1)" fill="none" stroke="#7a5a62" stroke-width="0.8" opacity="1"/><ellipse cx="235.8" cy="364.3" rx="5.0" ry="10.0" transform="rotate(28 235.8 364.3)" fill="none" stroke="#4a5088" stroke-width="0.8" opacity="1"/><text x="214.40" y="346.72" font-size="6.2" text-anchor="middle" fill="#222" font-weight="normal" >86.2</text><line x1="208.00" y1="348.00" x2="221.00" y2="348.00" stroke="#dc4f38" stroke-width="0.8" /><text x="238.30" y="381.02" font-size="6.2" text-anchor="middle" fill="#222" font-weight="normal" >11.0</text>
</g>
<rect x="194.5" y="334.8" width="50.7" height="49.4" fill="none" stroke="#8c8c8c" stroke-width="0.7"/>
<clipPath id="ci01"><rect x="140.8" y="385.0" width="50.7" height="50.2"/></clipPath>
<rect x="140.8" y="385.0" width="50.7" height="50.2" fill="#fff"/>
<g clip-path="url(#ci01)">
<path d="M159.7,416.5h0.01M145.2,430.2h0.01M163.9,422.8h0.01M154.1,423.9h0.01M164.5,417.9h0.01M175.0,424.1h0.01M147.4,414.7h0.01M170.9,423.6h0.01M168.8,419.8h0.01M153.5,419.3h0.01M162.7,411.4h0.01M144.7,423.4h0.01M183.0,418.0h0.01M153.0,419.6h0.01M158.9,415.3h0.01M168.3,413.6h0.01M157.4,431.4h0.01M156.9,423.8h0.01M158.8,418.5h0.01M159.7,415.1h0.01M140.3,417.6h0.01M149.1,422.1h0.01M160.0,420.4h0.01M164.1,418.0h0.01M152.4,420.2h0.01M145.5,428.9h0.01M165.0,420.4h0.01M158.6,419.7h0.01M166.2,415.8h0.01M166.8,419.5h0.01M165.9,425.4h0.01M155.0,420.9h0.01M152.0,419.8h0.01M176.3,421.5h0.01M162.1,422.7h0.01M170.5,418.6h0.01M163.6,408.3h0.01M157.4,425.2h0.01M169.8,413.9h0.01M153.2,422.2h0.01M152.7,418.8h0.01M167.7,410.0h0.01M167.6,430.5h0.01M168.9,416.2h0.01M157.4,424.8h0.01M172.8,415.6h0.01M168.6,414.7h0.01M162.7,416.6h0.01M167.3,424.4h0.01M150.4,426.3h0.01M159.6,416.1h0.01M160.7,425.3h0.01M175.3,413.9h0.01M156.8,410.9h0.01M172.9,411.5h0.01M155.9,414.7h0.01M155.9,414.9h0.01M162.1,422.0h0.01M161.2,421.2h0.01M159.3,430.9h0.01M149.5,414.1h0.01M156.1,417.1h0.01M152.2,422.9h0.01M157.8,412.9h0.01M164.0,427.6h0.01M164.0,416.1h0.01M160.4,418.8h0.01M162.2,423.8h0.01M151.1,408.6h0.01M156.8,415.7h0.01M162.2,414.0h0.01M168.5,430.0h0.01M149.3,419.3h0.01M142.5,414.7h0.01M148.9,430.4h0.01M149.4,413.7h0.01M152.4,429.8h0.01M153.7,421.8h0.01M166.8,425.2h0.01M176.3,416.2h0.01M161.6,420.2h0.01M176.7,418.8h0.01M159.5,423.7h0.01M162.1,418.9h0.01M152.2,415.8h0.01M151.2,414.9h0.01M169.9,417.0h0.01M156.9,432.4h0.01M159.3,406.5h0.01M174.9,415.5h0.01M169.3,404.5h0.01M164.9,419.6h0.01M161.9,419.9h0.01M161.8,407.8h0.01M147.1,418.8h0.01M154.3,419.6h0.01M163.3,419.6h0.01M157.9,416.5h0.01M160.4,426.7h0.01M165.4,417.0h0.01M163.2,429.1h0.01M158.3,425.9h0.01M166.6,413.4h0.01M161.6,410.7h0.01M167.3,416.3h0.01M151.9,430.6h0.01M158.6,430.4h0.01M155.0,422.3h0.01M160.7,417.1h0.01M159.8,416.1h0.01M164.4,416.9h0.01M151.9,405.5h0.01M167.7,414.8h0.01M148.6,428.6h0.01M166.7,423.1h0.01M158.2,432.6h0.01M167.2,432.5h0.01M161.4,424.0h0.01M153.8,416.2h0.01M170.3,419.4h0.01M173.0,417.2h0.01M150.5,414.5h0.01M153.4,419.7h0.01M156.7,426.6h0.01M161.2,417.2h0.01M160.6,418.5h0.01M164.0,422.7h0.01M163.9,412.2h0.01M155.0,433.9h0.01M164.6,424.9h0.01M148.1,425.9h0.01M155.2,412.8h0.01M159.1,425.9h0.01M172.6,422.9h0.01M149.5,417.1h0.01M166.6,422.2h0.01M156.8,412.7h0.01M167.9,420.3h0.01M162.0,415.1h0.01M164.7,422.5h0.01M150.0,413.5h0.01M163.8,420.9h0.01M163.1,424.3h0.01M155.9,422.3h0.01M160.0,424.2h0.01M169.6,411.4h0.01M178.7,418.1h0.01M167.2,419.3h0.01M171.0,411.0h0.01M155.6,415.3h0.01M167.7,424.4h0.01M164.9,419.6h0.01M159.3,421.8h0.01M154.3,431.7h0.01M153.5,416.5h0.01M152.2,419.4h0.01M169.2,421.3h0.01M154.3,430.8h0.01M163.8,413.1h0.01M147.7,423.2h0.01M157.0,424.6h0.01M150.7,411.7h0.01M156.3,411.4h0.01M161.8,409.9h0.01M152.5,419.0h0.01M160.9,428.9h0.01M167.7,419.0h0.01M156.8,410.9h0.01M154.7,419.7h0.01M155.3,427.0h0.01M152.7,419.9h0.01M146.1,414.7h0.01M168.5,423.8h0.01M157.8,414.4h0.01M142.9,433.3h0.01M169.0,415.9h0.01M171.2,423.0h0.01M165.9,412.7h0.01M169.6,419.0h0.01M148.5,425.1h0.01M150.3,426.0h0.01M160.1,412.1h0.01M151.0,435.8h0.01M167.5,425.5h0.01M155.0,431.3h0.01M180.5,420.3h0.01M159.5,422.3h0.01M162.4,425.6h0.01M167.1,415.7h0.01M153.6,429.9h0.01M159.1,425.2h0.01M167.3,426.8h0.01M165.9,412.6h0.01M168.4,427.1h0.01M158.0,424.6h0.01M172.1,420.7h0.01M158.9,411.1h0.01M152.6,427.0h0.01M171.3,430.7h0.01M158.3,429.5h0.01M159.3,408.2h0.01M155.2,424.6h0.01M156.2,421.5h0.01M160.3,413.9h0.01M160.9,414.7h0.01M158.3,425.1h0.01M157.2,424.0h0.01M170.6,412.8h0.01M161.6,424.3h0.01M161.3,427.0h0.01M153.7,428.9h0.01M153.9,418.4h0.01M168.7,407.7h0.01M173.8,415.2h0.01M166.2,408.5h0.01M172.9,421.7h0.01M158.8,419.9h0.01M176.7,409.6h0.01M155.1,418.8h0.01M164.1,419.6h0.01M167.1,427.6h0.01M159.5,423.8h0.01M166.1,408.4h0.01M173.1,424.2h0.01M147.3,420.8h0.01M146.8,415.7h0.01M156.6,408.8h0.01M168.3,424.9h0.01M148.3,425.9h0.01M150.1,432.6h0.01M154.3,422.1h0.01M162.2,422.4h0.01M157.8,421.7h0.01M156.8,423.1h0.01M152.5,425.7h0.01M145.7,426.5h0.01M172.8,411.6h0.01M152.6,427.0h0.01M147.9,416.3h0.01M157.7,427.0h0.01" stroke="#5468c8" stroke-width="0.64" stroke-linecap="round" opacity="0.3" fill="none"/><path d="M175.1,411.3h0.01M164.6,404.4h0.01M182.8,413.7h0.01M164.4,397.2h0.01M161.0,429.3h0.01M162.8,411.5h0.01M173.7,410.9h0.01M169.8,402.4h0.01M163.6,423.8h0.01M165.9,417.9h0.01M158.4,410.1h0.01M174.1,419.3h0.01M163.0,416.2h0.01M175.1,406.8h0.01M175.8,405.7h0.01M165.6,411.9h0.01M150.3,411.2h0.01M164.0,401.8h0.01M168.6,417.3h0.01M168.8,420.9h0.01M162.7,402.8h0.01M184.4,414.8h0.01M179.6,406.2h0.01M178.4,413.8h0.01M177.2,412.2h0.01M181.7,407.5h0.01M164.3,401.7h0.01M181.3,406.8h0.01M163.7,405.4h0.01M168.4,403.1h0.01M169.7,407.6h0.01M167.6,405.3h0.01M172.3,408.8h0.01M172.9,413.7h0.01M174.7,396.7h0.01M167.7,406.4h0.01M178.2,401.0h0.01M166.3,409.9h0.01M169.3,418.9h0.01M168.5,418.8h0.01M160.3,399.3h0.01M181.8,415.0h0.01M175.9,412.9h0.01M175.9,403.5h0.01M179.6,408.3h0.01M179.9,412.6h0.01M156.2,403.0h0.01M181.0,411.0h0.01M168.8,413.7h0.01M168.6,408.2h0.01M172.8,413.0h0.01M184.1,412.3h0.01M187.0,424.6h0.01M185.7,419.4h0.01M173.0,413.0h0.01M170.9,406.9h0.01M171.5,407.5h0.01M185.1,415.7h0.01M168.4,398.6h0.01M171.6,409.1h0.01M163.3,404.0h0.01M154.0,416.0h0.01M171.5,430.1h0.01M171.8,411.0h0.01M183.6,412.9h0.01M173.3,409.4h0.01M167.2,422.5h0.01M180.0,424.0h0.01M169.2,412.2h0.01M165.0,418.8h0.01M160.9,416.0h0.01M180.8,421.9h0.01M164.5,419.6h0.01M166.3,406.7h0.01M161.4,420.1h0.01M185.2,407.8h0.01M165.9,409.6h0.01M192.1,419.0h0.01M167.7,399.4h0.01M166.6,420.3h0.01M186.9,410.1h0.01M166.5,408.4h0.01M156.9,418.4h0.01M163.3,419.4h0.01M158.3,403.1h0.01M174.3,406.7h0.01M178.3,412.1h0.01M162.6,416.4h0.01M178.7,398.6h0.01M186.6,415.5h0.01" stroke="#5468c8" stroke-width="0.64" stroke-linecap="round" opacity="0.25" fill="none"/><ellipse cx="158" cy="421" rx="11" ry="8" transform="rotate(-35 158 421)" fill="url(#densC)" opacity="0.8"/><ellipse cx="175.0" cy="406.4" rx="10.4" ry="4.4" transform="rotate(-40.6 175.0 406.4)" fill="url(#dens)" stroke="none" stroke-width="0.8" opacity="0.9"/><ellipse cx="178.0" cy="417" rx="5.6" ry="2.8" transform="rotate(-38 178.0 417)" fill="url(#densB)" stroke="none" stroke-width="0.8" opacity="0.75"/><ellipse cx="175.4" cy="405" rx="12.4" ry="5.6" transform="rotate(-40.6 175.4 405)" fill="none" stroke="#4a5078" stroke-width="0.8" opacity="1"/><ellipse cx="178.1" cy="416.7" rx="7.4" ry="3.7" transform="rotate(-38 178.1 416.7)" fill="none" stroke="#4a5088" stroke-width="0.8" opacity="1"/><text x="162.30" y="399.12" font-size="6.2" text-anchor="middle" fill="#222" font-weight="normal" >75.9</text><line x1="156.40" y1="401.20" x2="168.70" y2="401.20" stroke="#dc4f38" stroke-width="0.8" /><text x="184.60" y="431.52" font-size="6.2" text-anchor="middle" fill="#222" font-weight="normal" >9.24</text>
</g>
<rect x="140.8" y="385.0" width="50.7" height="50.2" fill="none" stroke="#8c8c8c" stroke-width="0.7"/>
<clipPath id="ci11"><rect x="194.5" y="385.0" width="50.7" height="50.2"/></clipPath>
<rect x="194.5" y="385.0" width="50.7" height="50.2" fill="#fff"/>
<g clip-path="url(#ci11)">
<path d="M213.3,412.8h0.01M203.0,421.9h0.01M215.5,415.2h0.01M201.8,411.8h0.01M206.3,426.1h0.01M196.2,420.5h0.01M211.6,433.5h0.01M212.6,422.2h0.01M199.8,418.4h0.01M203.4,424.9h0.01M207.7,434.0h0.01M210.0,417.6h0.01M218.8,429.7h0.01M208.7,419.7h0.01M194.9,417.9h0.01M214.4,419.2h0.01M198.8,425.2h0.01M209.7,427.6h0.01M212.6,432.5h0.01M202.1,429.9h0.01M201.1,428.2h0.01M209.3,425.5h0.01M214.8,423.9h0.01M215.8,429.3h0.01M208.9,420.6h0.01M202.7,420.8h0.01M206.6,423.9h0.01M228.9,427.8h0.01M213.4,418.8h0.01M203.0,422.1h0.01M209.3,417.8h0.01M219.3,420.6h0.01M215.5,410.0h0.01M208.0,425.7h0.01M209.3,427.6h0.01M210.0,425.0h0.01M194.8,419.7h0.01M191.6,427.8h0.01M210.2,422.8h0.01M202.3,420.5h0.01M220.9,434.4h0.01M207.6,431.7h0.01M196.9,412.4h0.01M204.6,418.8h0.01M204.1,425.1h0.01M229.2,420.0h0.01M208.3,425.7h0.01M207.8,429.6h0.01M220.4,416.5h0.01M209.1,422.4h0.01M210.5,414.8h0.01M195.7,410.1h0.01M211.7,425.2h0.01M208.5,409.8h0.01M205.4,419.5h0.01M198.1,418.5h0.01M212.9,427.3h0.01M207.8,427.1h0.01M203.8,424.4h0.01M208.3,427.3h0.01M207.5,423.1h0.01M207.1,420.1h0.01M223.6,427.1h0.01M211.0,437.7h0.01M217.8,414.7h0.01M212.9,429.0h0.01M221.2,431.9h0.01M213.4,416.9h0.01M201.9,425.6h0.01M211.5,417.9h0.01M205.3,421.6h0.01M208.4,426.0h0.01M206.0,416.6h0.01M216.7,433.6h0.01M207.3,430.1h0.01M211.1,428.0h0.01M211.4,419.4h0.01M212.0,430.1h0.01M201.7,435.8h0.01M222.6,434.9h0.01M221.9,428.5h0.01M205.6,420.4h0.01M202.3,424.7h0.01M207.8,428.0h0.01M193.9,437.9h0.01M223.9,423.8h0.01M212.7,426.9h0.01M209.9,422.7h0.01M207.1,419.1h0.01M209.2,423.9h0.01M210.2,418.9h0.01M208.3,424.3h0.01M212.2,417.6h0.01M210.9,429.9h0.01M212.2,421.8h0.01M204.6,422.6h0.01M213.1,433.3h0.01M206.9,420.1h0.01M210.6,425.2h0.01M201.6,419.6h0.01M207.3,428.0h0.01M199.6,417.9h0.01M211.5,416.7h0.01M208.8,426.1h0.01M207.2,417.9h0.01M207.6,422.0h0.01M210.4,419.0h0.01M215.6,413.9h0.01M206.8,424.0h0.01M214.7,420.3h0.01M211.8,420.6h0.01M213.2,434.4h0.01M205.2,426.7h0.01M201.5,429.8h0.01M216.5,424.2h0.01M200.1,426.4h0.01M216.0,430.5h0.01M213.7,413.0h0.01M203.2,432.5h0.01M199.4,430.8h0.01M221.2,428.6h0.01M215.8,422.0h0.01M199.4,423.4h0.01M206.6,423.7h0.01M212.9,423.1h0.01M209.3,426.5h0.01M208.0,435.1h0.01M211.1,424.5h0.01M206.5,420.2h0.01M217.4,424.9h0.01M200.4,420.6h0.01M207.0,421.3h0.01M215.6,417.0h0.01M211.4,424.9h0.01M199.8,424.3h0.01M207.3,427.0h0.01M204.8,425.8h0.01M196.3,417.5h0.01M213.5,430.2h0.01M207.9,420.4h0.01M215.6,411.4h0.01M202.4,428.0h0.01M212.6,417.8h0.01M194.8,432.7h0.01M209.1,418.6h0.01M208.4,429.4h0.01M189.9,430.7h0.01M213.2,411.5h0.01M213.4,413.3h0.01M216.0,426.4h0.01M223.8,420.3h0.01M208.0,430.3h0.01M203.5,419.8h0.01M205.4,423.6h0.01M200.4,426.9h0.01M211.8,424.4h0.01M219.9,422.0h0.01M217.1,420.7h0.01M213.3,412.4h0.01M209.4,422.9h0.01M204.5,420.3h0.01M205.6,419.7h0.01M192.6,420.4h0.01M204.2,420.9h0.01M200.6,423.2h0.01M213.5,422.5h0.01M204.6,432.1h0.01M214.8,429.5h0.01M216.1,422.0h0.01M207.1,430.7h0.01M204.1,423.3h0.01M210.6,426.2h0.01M206.1,429.9h0.01M206.8,428.4h0.01M215.5,428.0h0.01M213.1,417.0h0.01M198.8,420.3h0.01M211.3,433.0h0.01M199.4,425.8h0.01M202.0,419.6h0.01M206.1,428.2h0.01M209.5,431.1h0.01M201.1,429.3h0.01M214.5,424.4h0.01M211.3,420.6h0.01M200.4,421.6h0.01M203.5,441.3h0.01M204.6,433.9h0.01M209.4,425.9h0.01M213.2,419.3h0.01M214.4,426.3h0.01M197.4,427.6h0.01M211.9,426.7h0.01M219.1,421.5h0.01M211.6,428.5h0.01M201.7,431.2h0.01M197.8,416.2h0.01M211.7,417.5h0.01M207.2,414.1h0.01M208.5,417.2h0.01M210.4,414.8h0.01M211.1,422.4h0.01M208.4,423.6h0.01M208.9,416.1h0.01M190.0,424.2h0.01M201.4,421.3h0.01M211.0,412.1h0.01M202.7,420.3h0.01M200.6,426.0h0.01M207.0,419.1h0.01M201.1,428.8h0.01M203.4,427.5h0.01M211.1,412.6h0.01M200.4,424.0h0.01M210.4,428.7h0.01M213.6,430.2h0.01M205.4,422.7h0.01M213.4,421.4h0.01M215.4,414.5h0.01M212.6,423.0h0.01M194.2,429.9h0.01M210.2,424.1h0.01M200.5,421.2h0.01M218.6,419.0h0.01M183.7,418.9h0.01M199.6,423.2h0.01M205.2,418.5h0.01M202.1,430.3h0.01M197.9,435.7h0.01M204.2,417.4h0.01M213.5,427.4h0.01M200.7,428.5h0.01M195.1,418.5h0.01M215.9,422.5h0.01M198.9,427.1h0.01M214.4,423.9h0.01M195.4,421.9h0.01M210.9,428.6h0.01M221.0,422.5h0.01M204.6,423.8h0.01M216.4,418.4h0.01M217.1,407.5h0.01M213.6,419.9h0.01M211.2,428.1h0.01M199.7,423.5h0.01M209.7,427.5h0.01M201.5,418.1h0.01M194.5,439.2h0.01M206.7,422.7h0.01M197.5,429.6h0.01M204.3,432.6h0.01M214.0,424.1h0.01M213.1,417.3h0.01M205.7,420.5h0.01M199.1,424.1h0.01M207.0,432.6h0.01M184.5,420.0h0.01M201.6,421.2h0.01M211.0,426.4h0.01M208.2,421.2h0.01M211.5,426.2h0.01M195.1,422.4h0.01M198.4,416.9h0.01M209.0,424.4h0.01M208.8,418.7h0.01M206.6,418.5h0.01M210.7,428.1h0.01M220.3,431.6h0.01M202.4,421.3h0.01M201.4,425.8h0.01M221.9,428.3h0.01M192.6,416.5h0.01M199.0,427.1h0.01M208.0,425.8h0.01M220.5,419.0h0.01M202.1,435.8h0.01M210.4,419.3h0.01M193.8,414.9h0.01M190.9,424.4h0.01M208.3,430.0h0.01M207.0,419.8h0.01M202.8,435.4h0.01M195.6,425.0h0.01M208.2,427.7h0.01M205.2,427.0h0.01M213.7,423.1h0.01M204.8,422.9h0.01M201.2,422.8h0.01M205.9,425.3h0.01M217.4,431.8h0.01M204.9,427.6h0.01M210.1,428.6h0.01M208.2,425.6h0.01M204.7,419.3h0.01M214.1,431.8h0.01M212.6,426.6h0.01M209.9,421.3h0.01M195.5,428.0h0.01M209.4,420.7h0.01M201.2,431.7h0.01M195.4,434.6h0.01M212.5,438.2h0.01M203.0,423.9h0.01M204.5,424.9h0.01M206.5,419.5h0.01M215.5,419.3h0.01M204.4,427.3h0.01M204.2,421.4h0.01M210.5,421.8h0.01M199.3,423.4h0.01M206.5,434.2h0.01M200.3,429.8h0.01M202.5,421.9h0.01M205.7,425.6h0.01M214.0,434.5h0.01M203.5,432.0h0.01M215.0,428.9h0.01M202.7,429.4h0.01M207.2,426.1h0.01M206.1,428.0h0.01" stroke="#5468c8" stroke-width="0.64" stroke-linecap="round" opacity="0.4" fill="none"/><path d="M234.9,419.9h0.01M224.4,419.0h0.01M237.6,405.5h0.01M237.8,402.7h0.01M230.3,416.2h0.01M237.9,414.0h0.01M222.2,406.4h0.01M216.0,417.4h0.01M224.1,407.0h0.01M230.3,406.6h0.01M222.5,408.8h0.01M239.2,422.2h0.01M224.7,401.0h0.01M228.2,412.5h0.01M228.8,416.0h0.01M223.4,418.5h0.01M232.7,413.5h0.01M222.7,408.6h0.01M231.5,404.3h0.01M224.7,406.8h0.01M214.9,416.2h0.01M225.8,412.3h0.01M233.0,401.5h0.01M225.5,414.0h0.01M232.7,404.4h0.01M231.7,413.5h0.01M236.8,420.0h0.01M230.4,427.0h0.01M226.0,409.0h0.01M223.3,405.4h0.01M225.8,398.9h0.01M225.3,415.0h0.01M233.9,409.6h0.01M237.1,407.4h0.01M224.9,398.9h0.01M219.9,406.5h0.01M237.7,415.6h0.01M217.4,415.6h0.01M229.8,410.4h0.01M226.2,409.9h0.01M221.8,399.9h0.01M225.3,420.8h0.01M237.2,410.1h0.01M220.2,410.6h0.01M233.0,414.4h0.01M221.4,414.5h0.01M224.4,415.5h0.01M222.8,402.0h0.01M226.5,417.2h0.01M217.4,411.3h0.01M232.8,409.4h0.01M220.9,425.9h0.01M232.5,419.0h0.01M218.6,423.1h0.01M213.1,408.5h0.01M231.8,421.1h0.01M218.8,407.5h0.01M227.5,398.9h0.01M231.0,415.8h0.01M222.5,415.7h0.01M232.0,414.1h0.01M230.1,422.3h0.01M222.3,413.1h0.01M221.9,419.0h0.01M222.8,415.2h0.01M227.1,412.5h0.01M239.3,411.4h0.01M237.0,417.6h0.01M236.2,410.9h0.01M233.2,417.1h0.01M221.2,413.8h0.01M225.0,411.8h0.01M236.1,407.1h0.01M213.0,400.2h0.01M222.5,407.6h0.01M226.1,415.8h0.01M239.6,414.1h0.01M229.6,407.0h0.01M230.5,421.2h0.01M236.3,398.8h0.01M232.9,422.7h0.01M232.4,401.9h0.01M223.6,416.0h0.01M229.2,406.5h0.01M219.1,418.5h0.01M215.7,421.7h0.01M226.2,414.0h0.01M215.7,408.0h0.01M231.3,402.1h0.01M241.9,402.5h0.01" stroke="#5468c8" stroke-width="0.64" stroke-linecap="round" opacity="0.25" fill="none"/><ellipse cx="207" cy="424.8" rx="10.5" ry="11" fill="url(#densD)" opacity="0.85"/><ellipse cx="228.0" cy="407.6" rx="6.0" ry="3.8" transform="rotate(-38 228.0 407.6)" fill="url(#densD)" stroke="none" stroke-width="0.8" opacity="0.95"/><ellipse cx="232.0" cy="417.2" rx="5.2" ry="2.6" transform="rotate(-42 232.0 417.2)" fill="url(#densB)" stroke="none" stroke-width="0.8" opacity="0.55"/><ellipse cx="229" cy="405" rx="12.3" ry="5.8" transform="rotate(-38 229 405)" fill="none" stroke="#4a5078" stroke-width="0.8" opacity="1"/><ellipse cx="232.1" cy="417" rx="7.0" ry="3.8" transform="rotate(-42 232.1 417)" fill="none" stroke="#4a5088" stroke-width="0.8" opacity="1"/><text x="216.60" y="399.12" font-size="6.2" text-anchor="middle" fill="#222" font-weight="normal" >32.5</text><line x1="210.00" y1="400.80" x2="223.20" y2="400.80" stroke="#dc4f38" stroke-width="0.8" /><text x="238.00" y="431.52" font-size="6.2" text-anchor="middle" fill="#222" font-weight="normal" >11.2</text>
</g>
<rect x="194.5" y="385.0" width="50.7" height="50.2" fill="none" stroke="#8c8c8c" stroke-width="0.7"/>
</svg>
</body></html>
